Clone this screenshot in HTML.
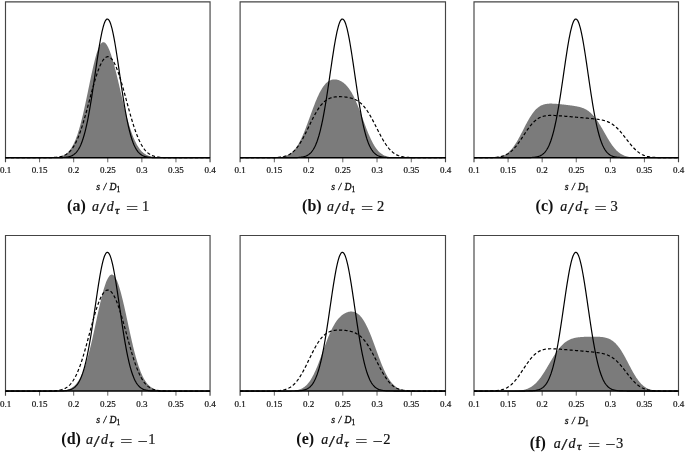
<!DOCTYPE html>
<html><head><meta charset="utf-8"><title>Figure</title>
<style>
html,body{margin:0;padding:0;background:#fff;}
body{width:685px;height:452px;overflow:hidden;}
svg{display:block;}
text{font-family:"Liberation Serif","DejaVu Serif",serif;fill:#111;}
.tk{font-size:9px;text-anchor:middle;stroke:#111;stroke-width:0.2px;}
.ax{font-size:9.7px;text-anchor:middle;stroke:#111;stroke-width:0.3px;word-spacing:1px;}
.sub{font-size:7.5px;}
.cb{font-weight:bold;font-size:16px;}
.cm{font-style:italic;font-size:14px;stroke:#111;stroke-width:0.2px;}
.cr{font-size:13.5px;stroke:#111;stroke-width:0.2px;}
.cd{font-size:14.5px;stroke:#111;stroke-width:0.2px;}
.cs{font-style:italic;font-size:10px;stroke:#111;stroke-width:0.3px;}
</style></head><body>
<svg width="685" height="452" viewBox="0 0 685 452">
<g>
<path d="M5.50,157.70 L5.50,157.70 L6.00,157.70 L6.50,157.70 L7.00,157.70 L7.50,157.70 L8.00,157.70 L8.50,157.70 L9.00,157.70 L9.50,157.70 L10.00,157.70 L10.50,157.70 L11.00,157.70 L11.50,157.70 L12.00,157.70 L12.50,157.70 L13.00,157.70 L13.50,157.70 L14.00,157.70 L14.50,157.70 L15.00,157.70 L15.50,157.70 L16.00,157.70 L16.50,157.70 L17.00,157.70 L17.50,157.70 L18.00,157.70 L18.50,157.70 L19.00,157.70 L19.50,157.70 L20.00,157.70 L20.50,157.70 L21.00,157.70 L21.50,157.70 L22.00,157.70 L22.50,157.70 L23.00,157.70 L23.50,157.70 L24.00,157.70 L24.50,157.70 L25.00,157.70 L25.50,157.70 L26.01,157.70 L26.51,157.70 L27.01,157.70 L27.51,157.70 L28.01,157.70 L28.51,157.70 L29.01,157.70 L29.51,157.70 L30.01,157.70 L30.51,157.70 L31.01,157.70 L31.51,157.70 L32.01,157.70 L32.51,157.70 L33.01,157.70 L33.51,157.70 L34.01,157.70 L34.51,157.70 L35.01,157.70 L35.51,157.70 L36.01,157.70 L36.51,157.70 L37.01,157.70 L37.51,157.70 L38.01,157.70 L38.51,157.70 L39.01,157.70 L39.51,157.70 L40.01,157.70 L40.51,157.70 L41.01,157.69 L41.51,157.69 L42.01,157.69 L42.51,157.69 L43.01,157.69 L43.51,157.69 L44.01,157.69 L44.51,157.68 L45.01,157.68 L45.51,157.68 L46.01,157.67 L46.51,157.67 L47.01,157.67 L47.51,157.66 L48.01,157.65 L48.51,157.65 L49.01,157.64 L49.51,157.63 L50.01,157.62 L50.51,157.60 L51.01,157.59 L51.51,157.57 L52.01,157.55 L52.51,157.53 L53.01,157.51 L53.51,157.48 L54.01,157.45 L54.51,157.41 L55.01,157.37 L55.51,157.33 L56.01,157.28 L56.51,157.22 L57.01,157.16 L57.51,157.09 L58.01,157.01 L58.51,156.93 L59.01,156.83 L59.51,156.72 L60.01,156.61 L60.51,156.48 L61.01,156.33 L61.51,156.18 L62.01,156.00 L62.51,155.81 L63.01,155.61 L63.51,155.38 L64.01,155.13 L64.51,154.86 L65.01,154.56 L65.51,154.24 L66.01,153.89 L66.51,153.51 L67.02,153.10 L67.52,152.66 L68.02,152.18 L68.52,151.67 L69.02,151.12 L69.52,150.53 L70.02,149.90 L70.52,149.22 L71.02,148.49 L71.52,147.72 L72.02,146.90 L72.52,146.03 L73.02,145.11 L73.52,144.13 L74.02,143.09 L74.52,142.00 L75.02,140.85 L75.52,139.64 L76.02,138.37 L76.52,137.04 L77.02,135.64 L77.52,134.19 L78.02,132.67 L78.52,131.09 L79.02,129.44 L79.52,127.74 L80.02,125.97 L80.52,124.14 L81.02,122.25 L81.52,120.31 L82.02,118.31 L82.52,116.26 L83.02,114.15 L83.52,112.00 L84.02,109.80 L84.52,107.56 L85.02,105.28 L85.52,102.97 L86.02,100.62 L86.52,98.25 L87.02,95.86 L87.52,93.45 L88.02,91.02 L88.52,88.59 L89.02,86.16 L89.52,83.74 L90.02,81.33 L90.52,78.93 L91.02,76.56 L91.52,74.21 L92.02,71.90 L92.52,69.64 L93.02,67.42 L93.52,65.26 L94.02,63.16 L94.52,61.13 L95.02,59.17 L95.52,57.30 L96.02,55.51 L96.52,53.82 L97.02,52.22 L97.52,50.73 L98.02,49.35 L98.52,48.08 L99.02,46.93 L99.52,45.90 L100.02,44.99 L100.52,44.21 L101.02,43.56 L101.52,43.03 L102.02,42.63 L102.52,42.36 L103.02,42.22 L103.52,42.20 L104.02,42.30 L104.52,42.52 L105.02,42.86 L105.52,43.31 L106.02,43.87 L106.52,44.53 L107.02,45.30 L107.52,46.16 L108.03,47.12 L108.53,48.16 L109.03,49.29 L109.53,50.51 L110.03,51.80 L110.53,53.17 L111.03,54.62 L111.53,56.13 L112.03,57.71 L112.53,59.35 L113.03,61.05 L113.53,62.81 L114.03,64.62 L114.53,66.48 L115.03,68.39 L115.53,70.33 L116.03,72.32 L116.53,74.34 L117.03,76.39 L117.53,78.47 L118.03,80.56 L118.53,82.68 L119.03,84.81 L119.53,86.95 L120.03,89.10 L120.53,91.25 L121.03,93.39 L121.53,95.53 L122.03,97.67 L122.53,99.78 L123.03,101.89 L123.53,103.97 L124.03,106.03 L124.53,108.06 L125.03,110.06 L125.53,112.03 L126.03,113.97 L126.53,115.86 L127.03,117.72 L127.53,119.54 L128.03,121.32 L128.53,123.05 L129.03,124.73 L129.53,126.37 L130.03,127.96 L130.53,129.50 L131.03,130.99 L131.53,132.42 L132.03,133.81 L132.53,135.15 L133.03,136.44 L133.53,137.67 L134.03,138.86 L134.53,139.99 L135.03,141.08 L135.53,142.12 L136.03,143.10 L136.53,144.05 L137.03,144.94 L137.53,145.79 L138.03,146.60 L138.53,147.37 L139.03,148.09 L139.53,148.77 L140.03,149.42 L140.53,150.02 L141.03,150.59 L141.53,151.13 L142.03,151.63 L142.53,152.10 L143.03,152.54 L143.53,152.96 L144.03,153.34 L144.53,153.70 L145.03,154.03 L145.53,154.34 L146.03,154.63 L146.53,154.89 L147.03,155.14 L147.53,155.36 L148.03,155.57 L148.53,155.77 L149.04,155.95 L149.54,156.11 L150.04,156.26 L150.54,156.40 L151.04,156.52 L151.54,156.64 L152.04,156.74 L152.54,156.84 L153.04,156.92 L153.54,157.00 L154.04,157.08 L154.54,157.14 L155.04,157.20 L155.54,157.25 L156.04,157.30 L156.54,157.34 L157.04,157.38 L157.54,157.42 L158.04,157.45 L158.54,157.48 L159.04,157.50 L159.54,157.53 L160.04,157.55 L160.54,157.56 L161.04,157.58 L161.54,157.59 L162.04,157.61 L162.54,157.62 L163.04,157.63 L163.54,157.64 L164.04,157.65 L164.54,157.65 L165.04,157.66 L165.54,157.66 L166.04,157.67 L166.54,157.67 L167.04,157.68 L167.54,157.68 L168.04,157.68 L168.54,157.68 L169.04,157.69 L169.54,157.69 L170.04,157.69 L170.54,157.69 L171.04,157.69 L171.54,157.69 L172.04,157.69 L172.54,157.70 L173.04,157.70 L173.54,157.70 L174.04,157.70 L174.54,157.70 L175.04,157.70 L175.54,157.70 L176.04,157.70 L176.54,157.70 L177.04,157.70 L177.54,157.70 L178.04,157.70 L178.54,157.70 L179.04,157.70 L179.54,157.70 L180.04,157.70 L180.54,157.70 L181.04,157.70 L181.54,157.70 L182.04,157.70 L182.54,157.70 L183.04,157.70 L183.54,157.70 L184.04,157.70 L184.54,157.70 L185.04,157.70 L185.54,157.70 L186.04,157.70 L186.54,157.70 L187.04,157.70 L187.54,157.70 L188.04,157.70 L188.54,157.70 L189.04,157.70 L189.54,157.70 L190.05,157.70 L190.55,157.70 L191.05,157.70 L191.55,157.70 L192.05,157.70 L192.55,157.70 L193.05,157.70 L193.55,157.70 L194.05,157.70 L194.55,157.70 L195.05,157.70 L195.55,157.70 L196.05,157.70 L196.55,157.70 L197.05,157.70 L197.55,157.70 L198.05,157.70 L198.55,157.70 L199.05,157.70 L199.55,157.70 L200.05,157.70 L200.55,157.70 L201.05,157.70 L201.55,157.70 L202.05,157.70 L202.55,157.70 L203.05,157.70 L203.55,157.70 L204.05,157.70 L204.55,157.70 L205.05,157.70 L205.55,157.70 L206.05,157.70 L206.55,157.70 L207.05,157.70 L207.55,157.70 L208.05,157.70 L208.55,157.70 L209.05,157.70 L209.55,157.70 L210.05,157.70 L210.05,157.70 Z" fill="#7b7b7b"/>
<path d="M5.50,162.30 V1.90 H210.05 V162.30" fill="none" stroke="#444" stroke-width="1.15"/>
<line x1="5.50" y1="157.70" x2="5.50" y2="157.70" stroke="#666" stroke-width="1"/>
<text x="5.50" y="173.10" class="tk">0.1</text>
<line x1="39.59" y1="157.70" x2="39.59" y2="162.30" stroke="#666" stroke-width="1"/>
<text x="39.59" y="173.10" class="tk">0.15</text>
<line x1="73.68" y1="157.70" x2="73.68" y2="162.30" stroke="#666" stroke-width="1"/>
<text x="73.68" y="173.10" class="tk">0.2</text>
<line x1="107.78" y1="157.70" x2="107.78" y2="162.30" stroke="#666" stroke-width="1"/>
<text x="107.78" y="173.10" class="tk">0.25</text>
<line x1="141.87" y1="157.70" x2="141.87" y2="162.30" stroke="#666" stroke-width="1"/>
<text x="141.87" y="173.10" class="tk">0.3</text>
<line x1="175.96" y1="157.70" x2="175.96" y2="162.30" stroke="#666" stroke-width="1"/>
<text x="175.96" y="173.10" class="tk">0.35</text>
<line x1="210.05" y1="157.70" x2="210.05" y2="157.70" stroke="#666" stroke-width="1"/>
<text x="210.05" y="173.10" class="tk">0.4</text>
<line x1="5.50" y1="157.70" x2="210.05" y2="157.70" stroke="#000" stroke-width="1.4"/>
<path d="M5.50,157.70 L6.00,157.70 L6.50,157.70 L7.00,157.70 L7.50,157.70 L8.00,157.70 L8.50,157.70 L9.00,157.70 L9.50,157.70 L10.00,157.70 L10.50,157.70 L11.00,157.70 L11.50,157.70 L12.00,157.70 L12.50,157.70 L13.00,157.70 L13.50,157.70 L14.00,157.70 L14.50,157.70 L15.00,157.70 L15.50,157.70 L16.00,157.70 L16.50,157.70 L17.00,157.70 L17.50,157.70 L18.00,157.70 L18.50,157.70 L19.00,157.70 L19.50,157.70 L20.00,157.70 L20.50,157.70 L21.00,157.70 L21.50,157.70 L22.00,157.70 L22.50,157.70 L23.00,157.70 L23.50,157.70 L24.00,157.70 L24.50,157.70 L25.00,157.70 L25.50,157.70 L26.01,157.70 L26.51,157.70 L27.01,157.70 L27.51,157.70 L28.01,157.70 L28.51,157.70 L29.01,157.70 L29.51,157.70 L30.01,157.70 L30.51,157.70 L31.01,157.70 L31.51,157.70 L32.01,157.70 L32.51,157.70 L33.01,157.70 L33.51,157.70 L34.01,157.70 L34.51,157.70 L35.01,157.70 L35.51,157.70 L36.01,157.70 L36.51,157.70 L37.01,157.70 L37.51,157.70 L38.01,157.70 L38.51,157.70 L39.01,157.70 L39.51,157.70 L40.01,157.70 L40.51,157.70 L41.01,157.69 L41.51,157.69 L42.01,157.69 L42.51,157.69 L43.01,157.69 L43.51,157.69 L44.01,157.69 L44.51,157.68 L45.01,157.68 L45.51,157.68 L46.01,157.68 L46.51,157.67 L47.01,157.67 L47.51,157.66 L48.01,157.66 L48.51,157.65 L49.01,157.64 L49.51,157.63 L50.01,157.62 L50.51,157.61 L51.01,157.60 L51.51,157.58 L52.01,157.56 L52.51,157.54 L53.01,157.52 L53.51,157.50 L54.01,157.47 L54.51,157.44 L55.01,157.40 L55.51,157.36 L56.01,157.32 L56.51,157.27 L57.01,157.22 L57.51,157.16 L58.01,157.09 L58.51,157.02 L59.01,156.93 L59.51,156.84 L60.01,156.74 L60.51,156.63 L61.01,156.51 L61.51,156.38 L62.01,156.23 L62.51,156.07 L63.01,155.90 L63.51,155.71 L64.01,155.50 L64.51,155.27 L65.01,155.03 L65.51,154.76 L66.01,154.47 L66.51,154.16 L67.02,153.83 L67.52,153.47 L68.02,153.08 L68.52,152.66 L69.02,152.22 L69.52,151.74 L70.02,151.23 L70.52,150.69 L71.02,150.11 L71.52,149.49 L72.02,148.84 L72.52,148.14 L73.02,147.41 L73.52,146.63 L74.02,145.82 L74.52,144.96 L75.02,144.05 L75.52,143.10 L76.02,142.11 L76.52,141.07 L77.02,139.98 L77.52,138.85 L78.02,137.67 L78.52,136.44 L79.02,135.17 L79.52,133.85 L80.02,132.49 L80.52,131.08 L81.02,129.63 L81.52,128.13 L82.02,126.60 L82.52,125.02 L83.02,123.41 L83.52,121.76 L84.02,120.08 L84.52,118.36 L85.02,116.62 L85.52,114.85 L86.02,113.05 L86.52,111.23 L87.02,109.39 L87.52,107.54 L88.02,105.68 L88.52,103.80 L89.02,101.92 L89.52,100.04 L90.02,98.15 L90.52,96.27 L91.02,94.40 L91.52,92.54 L92.02,90.69 L92.52,88.87 L93.02,87.06 L93.52,85.28 L94.02,83.53 L94.52,81.81 L95.02,80.12 L95.52,78.47 L96.02,76.87 L96.52,75.31 L97.02,73.80 L97.52,72.33 L98.02,70.92 L98.52,69.57 L99.02,68.27 L99.52,67.03 L100.02,65.86 L100.52,64.75 L101.02,63.70 L101.52,62.72 L102.02,61.81 L102.52,60.98 L103.02,60.21 L103.52,59.52 L104.02,58.90 L104.52,58.36 L105.02,57.89 L105.52,57.50 L106.02,57.18 L106.52,56.95 L107.02,56.79 L107.52,56.70 L108.03,56.70 L108.53,56.77 L109.03,56.92 L109.53,57.15 L110.03,57.45 L110.53,57.83 L111.03,58.29 L111.53,58.82 L112.03,59.42 L112.53,60.10 L113.03,60.84 L113.53,61.66 L114.03,62.55 L114.53,63.50 L115.03,64.52 L115.53,65.60 L116.03,66.75 L116.53,67.95 L117.03,69.22 L117.53,70.54 L118.03,71.91 L118.53,73.34 L119.03,74.81 L119.53,76.33 L120.03,77.89 L120.53,79.50 L121.03,81.14 L121.53,82.82 L122.03,84.53 L122.53,86.26 L123.03,88.03 L123.53,89.81 L124.03,91.62 L124.53,93.44 L125.03,95.27 L125.53,97.11 L126.03,98.96 L126.53,100.81 L127.03,102.66 L127.53,104.51 L128.03,106.35 L128.53,108.18 L129.03,110.00 L129.53,111.80 L130.03,113.58 L130.53,115.34 L131.03,117.08 L131.53,118.79 L132.03,120.47 L132.53,122.12 L133.03,123.73 L133.53,125.31 L134.03,126.86 L134.53,128.36 L135.03,129.83 L135.53,131.26 L136.03,132.64 L136.53,133.98 L137.03,135.28 L137.53,136.53 L138.03,137.73 L138.53,138.90 L139.03,140.01 L139.53,141.09 L140.03,142.11 L140.53,143.10 L141.03,144.03 L141.53,144.93 L142.03,145.78 L142.53,146.59 L143.03,147.36 L143.53,148.09 L144.03,148.78 L144.53,149.43 L145.03,150.04 L145.53,150.62 L146.03,151.16 L146.53,151.67 L147.03,152.15 L147.53,152.60 L148.03,153.01 L148.53,153.40 L149.04,153.76 L149.54,154.10 L150.04,154.41 L150.54,154.70 L151.04,154.97 L151.54,155.22 L152.04,155.45 L152.54,155.66 L153.04,155.85 L153.54,156.03 L154.04,156.19 L154.54,156.34 L155.04,156.47 L155.54,156.60 L156.04,156.71 L156.54,156.81 L157.04,156.91 L157.54,156.99 L158.04,157.07 L158.54,157.14 L159.04,157.20 L159.54,157.25 L160.04,157.30 L160.54,157.35 L161.04,157.39 L161.54,157.43 L162.04,157.46 L162.54,157.49 L163.04,157.51 L163.54,157.54 L164.04,157.56 L164.54,157.57 L165.04,157.59 L165.54,157.60 L166.04,157.62 L166.54,157.63 L167.04,157.64 L167.54,157.64 L168.04,157.65 L168.54,157.66 L169.04,157.66 L169.54,157.67 L170.04,157.67 L170.54,157.68 L171.04,157.68 L171.54,157.68 L172.04,157.69 L172.54,157.69 L173.04,157.69 L173.54,157.69 L174.04,157.69 L174.54,157.69 L175.04,157.69 L175.54,157.70 L176.04,157.70 L176.54,157.70 L177.04,157.70 L177.54,157.70 L178.04,157.70 L178.54,157.70 L179.04,157.70 L179.54,157.70 L180.04,157.70 L180.54,157.70 L181.04,157.70 L181.54,157.70 L182.04,157.70 L182.54,157.70 L183.04,157.70 L183.54,157.70 L184.04,157.70 L184.54,157.70 L185.04,157.70 L185.54,157.70 L186.04,157.70 L186.54,157.70 L187.04,157.70 L187.54,157.70 L188.04,157.70 L188.54,157.70 L189.04,157.70 L189.54,157.70 L190.05,157.70 L190.55,157.70 L191.05,157.70 L191.55,157.70 L192.05,157.70 L192.55,157.70 L193.05,157.70 L193.55,157.70 L194.05,157.70 L194.55,157.70 L195.05,157.70 L195.55,157.70 L196.05,157.70 L196.55,157.70 L197.05,157.70 L197.55,157.70 L198.05,157.70 L198.55,157.70 L199.05,157.70 L199.55,157.70 L200.05,157.70 L200.55,157.70 L201.05,157.70 L201.55,157.70 L202.05,157.70 L202.55,157.70 L203.05,157.70 L203.55,157.70 L204.05,157.70 L204.55,157.70 L205.05,157.70 L205.55,157.70 L206.05,157.70 L206.55,157.70 L207.05,157.70 L207.55,157.70 L208.05,157.70 L208.55,157.70 L209.05,157.70 L209.55,157.70 L210.05,157.70" fill="none" stroke="#000" stroke-width="1.2" stroke-dasharray="3.2,2.2"/>
<path d="M5.50,157.70 L6.00,157.70 L6.50,157.70 L7.00,157.70 L7.50,157.70 L8.00,157.70 L8.50,157.70 L9.00,157.70 L9.50,157.70 L10.00,157.70 L10.50,157.70 L11.00,157.70 L11.50,157.70 L12.00,157.70 L12.50,157.70 L13.00,157.70 L13.50,157.70 L14.00,157.70 L14.50,157.70 L15.00,157.70 L15.50,157.70 L16.00,157.70 L16.50,157.70 L17.00,157.70 L17.50,157.70 L18.00,157.70 L18.50,157.70 L19.00,157.70 L19.50,157.70 L20.00,157.70 L20.50,157.70 L21.00,157.70 L21.50,157.70 L22.00,157.70 L22.50,157.70 L23.00,157.70 L23.50,157.70 L24.00,157.70 L24.50,157.70 L25.00,157.70 L25.50,157.70 L26.01,157.70 L26.51,157.70 L27.01,157.70 L27.51,157.70 L28.01,157.70 L28.51,157.70 L29.01,157.70 L29.51,157.70 L30.01,157.70 L30.51,157.70 L31.01,157.70 L31.51,157.70 L32.01,157.70 L32.51,157.70 L33.01,157.70 L33.51,157.70 L34.01,157.70 L34.51,157.70 L35.01,157.70 L35.51,157.70 L36.01,157.70 L36.51,157.70 L37.01,157.70 L37.51,157.70 L38.01,157.70 L38.51,157.70 L39.01,157.70 L39.51,157.70 L40.01,157.70 L40.51,157.70 L41.01,157.70 L41.51,157.70 L42.01,157.70 L42.51,157.70 L43.01,157.70 L43.51,157.70 L44.01,157.70 L44.51,157.70 L45.01,157.70 L45.51,157.70 L46.01,157.70 L46.51,157.70 L47.01,157.70 L47.51,157.70 L48.01,157.70 L48.51,157.70 L49.01,157.70 L49.51,157.70 L50.01,157.70 L50.51,157.70 L51.01,157.70 L51.51,157.70 L52.01,157.70 L52.51,157.69 L53.01,157.69 L53.51,157.69 L54.01,157.69 L54.51,157.69 L55.01,157.69 L55.51,157.68 L56.01,157.68 L56.51,157.68 L57.01,157.67 L57.51,157.67 L58.01,157.66 L58.51,157.65 L59.01,157.65 L59.51,157.64 L60.01,157.63 L60.51,157.61 L61.01,157.60 L61.51,157.58 L62.01,157.56 L62.51,157.54 L63.01,157.51 L63.51,157.48 L64.01,157.45 L64.51,157.41 L65.01,157.36 L65.51,157.31 L66.01,157.26 L66.51,157.19 L67.02,157.12 L67.52,157.03 L68.02,156.94 L68.52,156.83 L69.02,156.71 L69.52,156.57 L70.02,156.42 L70.52,156.25 L71.02,156.06 L71.52,155.85 L72.02,155.62 L72.52,155.35 L73.02,155.07 L73.52,154.75 L74.02,154.39 L74.52,154.00 L75.02,153.58 L75.52,153.11 L76.02,152.59 L76.52,152.03 L77.02,151.42 L77.52,150.75 L78.02,150.02 L78.52,149.23 L79.02,148.38 L79.52,147.46 L80.02,146.46 L80.52,145.39 L81.02,144.24 L81.52,143.00 L82.02,141.68 L82.52,140.28 L83.02,138.77 L83.52,137.18 L84.02,135.49 L84.52,133.69 L85.02,131.80 L85.52,129.80 L86.02,127.70 L86.52,125.50 L87.02,123.19 L87.52,120.78 L88.02,118.27 L88.52,115.66 L89.02,112.95 L89.52,110.14 L90.02,107.24 L90.52,104.26 L91.02,101.20 L91.52,98.06 L92.02,94.85 L92.52,91.58 L93.02,88.25 L93.52,84.89 L94.02,81.48 L94.52,78.05 L95.02,74.61 L95.52,71.16 L96.02,67.72 L96.52,64.30 L97.02,60.92 L97.52,57.58 L98.02,54.30 L98.52,51.09 L99.02,47.96 L99.52,44.94 L100.02,42.02 L100.52,39.23 L101.02,36.57 L101.52,34.06 L102.02,31.72 L102.52,29.54 L103.02,27.54 L103.52,25.74 L104.02,24.13 L104.52,22.73 L105.02,21.55 L105.52,20.59 L106.02,19.85 L106.52,19.34 L107.02,19.06 L107.52,19.01 L108.03,19.20 L108.53,19.61 L109.03,20.26 L109.53,21.14 L110.03,22.23 L110.53,23.55 L111.03,25.07 L111.53,26.80 L112.03,28.72 L112.53,30.82 L113.03,33.10 L113.53,35.55 L114.03,38.15 L114.53,40.89 L115.03,43.75 L115.53,46.74 L116.03,49.83 L116.53,53.00 L117.03,56.26 L117.53,59.58 L118.03,62.95 L118.53,66.35 L119.03,69.78 L119.53,73.23 L120.03,76.68 L120.53,80.11 L121.03,83.53 L121.53,86.91 L122.03,90.25 L122.53,93.55 L123.03,96.78 L123.53,99.95 L124.03,103.05 L124.53,106.06 L125.03,108.99 L125.53,111.84 L126.03,114.59 L126.53,117.24 L127.03,119.79 L127.53,122.24 L128.03,124.59 L128.53,126.84 L129.03,128.98 L129.53,131.01 L130.03,132.95 L130.53,134.78 L131.03,136.51 L131.53,138.15 L132.03,139.69 L132.53,141.13 L133.03,142.49 L133.53,143.75 L134.03,144.94 L134.53,146.04 L135.03,147.07 L135.53,148.02 L136.03,148.90 L136.53,149.71 L137.03,150.46 L137.53,151.16 L138.03,151.79 L138.53,152.37 L139.03,152.91 L139.53,153.39 L140.03,153.84 L140.53,154.24 L141.03,154.61 L141.53,154.94 L142.03,155.24 L142.53,155.51 L143.03,155.76 L143.53,155.98 L144.03,156.18 L144.53,156.36 L145.03,156.51 L145.53,156.66 L146.03,156.78 L146.53,156.89 L147.03,156.99 L147.53,157.08 L148.03,157.16 L148.53,157.23 L149.04,157.29 L149.54,157.35 L150.04,157.39 L150.54,157.43 L151.04,157.47 L151.54,157.50 L152.04,157.53 L152.54,157.55 L153.04,157.57 L153.54,157.59 L154.04,157.61 L154.54,157.62 L155.04,157.63 L155.54,157.64 L156.04,157.65 L156.54,157.66 L157.04,157.66 L157.54,157.67 L158.04,157.67 L158.54,157.68 L159.04,157.68 L159.54,157.69 L160.04,157.69 L160.54,157.69 L161.04,157.69 L161.54,157.69 L162.04,157.69 L162.54,157.69 L163.04,157.70 L163.54,157.70 L164.04,157.70 L164.54,157.70 L165.04,157.70 L165.54,157.70 L166.04,157.70 L166.54,157.70 L167.04,157.70 L167.54,157.70 L168.04,157.70 L168.54,157.70 L169.04,157.70 L169.54,157.70 L170.04,157.70 L170.54,157.70 L171.04,157.70 L171.54,157.70 L172.04,157.70 L172.54,157.70 L173.04,157.70 L173.54,157.70 L174.04,157.70 L174.54,157.70 L175.04,157.70 L175.54,157.70 L176.04,157.70 L176.54,157.70 L177.04,157.70 L177.54,157.70 L178.04,157.70 L178.54,157.70 L179.04,157.70 L179.54,157.70 L180.04,157.70 L180.54,157.70 L181.04,157.70 L181.54,157.70 L182.04,157.70 L182.54,157.70 L183.04,157.70 L183.54,157.70 L184.04,157.70 L184.54,157.70 L185.04,157.70 L185.54,157.70 L186.04,157.70 L186.54,157.70 L187.04,157.70 L187.54,157.70 L188.04,157.70 L188.54,157.70 L189.04,157.70 L189.54,157.70 L190.05,157.70 L190.55,157.70 L191.05,157.70 L191.55,157.70 L192.05,157.70 L192.55,157.70 L193.05,157.70 L193.55,157.70 L194.05,157.70 L194.55,157.70 L195.05,157.70 L195.55,157.70 L196.05,157.70 L196.55,157.70 L197.05,157.70 L197.55,157.70 L198.05,157.70 L198.55,157.70 L199.05,157.70 L199.55,157.70 L200.05,157.70 L200.55,157.70 L201.05,157.70 L201.55,157.70 L202.05,157.70 L202.55,157.70 L203.05,157.70 L203.55,157.70 L204.05,157.70 L204.55,157.70 L205.05,157.70 L205.55,157.70 L206.05,157.70 L206.55,157.70 L207.05,157.70 L207.55,157.70 L208.05,157.70 L208.55,157.70 L209.05,157.70 L209.55,157.70 L210.05,157.70" fill="none" stroke="#000" stroke-width="1.2"/>
<text x="108.28" y="189.70" class="ax"><tspan font-style="italic">s / D</tspan><tspan class="sub" dy="2.3">1</tspan></text>
<text x="67.08" y="211.10" class="cb">(a)</text>
<text x="91.88" y="211.10" class="cm">a</text>
<text transform="translate(99.38,213.90) scale(1.65,1.25)" class="cr">/</text>
<text x="106.67" y="211.10" class="cm">d</text>
<text transform="translate(114.97,213.50) scale(1.25,1)" class="cs">τ</text>
<text transform="translate(125.97,213.00) scale(1.6,1.1)" class="cr">=</text>
<text x="141.97" y="211.10" class="cd">1</text>
</g>
<g>
<path d="M240.10,157.70 L240.10,157.70 L240.60,157.70 L241.10,157.70 L241.61,157.70 L242.11,157.70 L242.61,157.70 L243.11,157.70 L243.62,157.70 L244.12,157.70 L244.62,157.70 L245.12,157.70 L245.62,157.70 L246.13,157.70 L246.63,157.70 L247.13,157.70 L247.63,157.70 L248.14,157.70 L248.64,157.70 L249.14,157.70 L249.64,157.70 L250.14,157.70 L250.65,157.70 L251.15,157.70 L251.65,157.70 L252.15,157.70 L252.66,157.70 L253.16,157.70 L253.66,157.70 L254.16,157.70 L254.66,157.70 L255.17,157.70 L255.67,157.70 L256.17,157.70 L256.67,157.70 L257.17,157.70 L257.68,157.70 L258.18,157.70 L258.68,157.70 L259.18,157.70 L259.69,157.70 L260.19,157.70 L260.69,157.70 L261.19,157.70 L261.69,157.70 L262.20,157.70 L262.70,157.70 L263.20,157.70 L263.70,157.70 L264.21,157.69 L264.71,157.69 L265.21,157.69 L265.71,157.69 L266.21,157.69 L266.72,157.69 L267.22,157.69 L267.72,157.68 L268.22,157.68 L268.73,157.68 L269.23,157.67 L269.73,157.67 L270.23,157.66 L270.73,157.66 L271.24,157.65 L271.74,157.64 L272.24,157.63 L272.74,157.62 L273.25,157.61 L273.75,157.60 L274.25,157.58 L274.75,157.57 L275.25,157.55 L275.76,157.53 L276.26,157.50 L276.76,157.47 L277.26,157.44 L277.77,157.41 L278.27,157.37 L278.77,157.33 L279.27,157.28 L279.77,157.23 L280.28,157.17 L280.78,157.10 L281.28,157.03 L281.78,156.95 L282.28,156.86 L282.79,156.76 L283.29,156.65 L283.79,156.53 L284.29,156.40 L284.80,156.26 L285.30,156.10 L285.80,155.93 L286.30,155.75 L286.80,155.55 L287.31,155.33 L287.81,155.09 L288.31,154.84 L288.81,154.56 L289.32,154.26 L289.82,153.94 L290.32,153.60 L290.82,153.24 L291.32,152.84 L291.83,152.42 L292.33,151.98 L292.83,151.50 L293.33,151.00 L293.84,150.46 L294.34,149.90 L294.84,149.30 L295.34,148.67 L295.84,148.00 L296.35,147.30 L296.85,146.57 L297.35,145.80 L297.85,145.00 L298.36,144.16 L298.86,143.28 L299.36,142.37 L299.86,141.43 L300.36,140.45 L300.87,139.44 L301.37,138.39 L301.87,137.32 L302.37,136.21 L302.88,135.07 L303.38,133.90 L303.88,132.70 L304.38,131.48 L304.88,130.23 L305.39,128.96 L305.89,127.67 L306.39,126.35 L306.89,125.03 L307.39,123.68 L307.90,122.33 L308.40,120.96 L308.90,119.58 L309.40,118.20 L309.91,116.82 L310.41,115.44 L310.91,114.06 L311.41,112.68 L311.91,111.31 L312.42,109.95 L312.92,108.60 L313.42,107.26 L313.92,105.94 L314.43,104.64 L314.93,103.36 L315.43,102.10 L315.93,100.87 L316.43,99.67 L316.94,98.49 L317.44,97.34 L317.94,96.22 L318.44,95.14 L318.95,94.09 L319.45,93.08 L319.95,92.10 L320.45,91.16 L320.95,90.25 L321.46,89.39 L321.96,88.56 L322.46,87.77 L322.96,87.02 L323.47,86.30 L323.97,85.63 L324.47,84.99 L324.97,84.40 L325.47,83.84 L325.98,83.32 L326.48,82.83 L326.98,82.38 L327.48,81.97 L327.99,81.59 L328.49,81.24 L328.99,80.93 L329.49,80.65 L329.99,80.40 L330.50,80.18 L331.00,79.99 L331.50,79.82 L332.00,79.69 L332.50,79.58 L333.01,79.50 L333.51,79.44 L334.01,79.41 L334.51,79.40 L335.02,79.41 L335.52,79.45 L336.02,79.51 L336.52,79.59 L337.02,79.69 L337.53,79.81 L338.03,79.95 L338.53,80.11 L339.03,80.29 L339.54,80.49 L340.04,80.71 L340.54,80.96 L341.04,81.22 L341.54,81.50 L342.05,81.81 L342.55,82.14 L343.05,82.49 L343.55,82.86 L344.06,83.26 L344.56,83.68 L345.06,84.13 L345.56,84.60 L346.06,85.10 L346.57,85.63 L347.07,86.19 L347.57,86.78 L348.07,87.40 L348.58,88.05 L349.08,88.73 L349.58,89.44 L350.08,90.18 L350.58,90.96 L351.09,91.78 L351.59,92.62 L352.09,93.50 L352.59,94.42 L353.10,95.36 L353.60,96.34 L354.10,97.36 L354.60,98.40 L355.10,99.48 L355.61,100.59 L356.11,101.73 L356.61,102.89 L357.11,104.09 L357.61,105.31 L358.12,106.55 L358.62,107.81 L359.12,109.10 L359.62,110.40 L360.13,111.72 L360.63,113.05 L361.13,114.39 L361.63,115.75 L362.13,117.10 L362.64,118.47 L363.14,119.83 L363.64,121.19 L364.14,122.54 L364.65,123.89 L365.15,125.24 L365.65,126.56 L366.15,127.88 L366.65,129.18 L367.16,130.46 L367.66,131.71 L368.16,132.95 L368.66,134.16 L369.17,135.34 L369.67,136.49 L370.17,137.62 L370.67,138.71 L371.17,139.77 L371.68,140.80 L372.18,141.79 L372.68,142.75 L373.18,143.67 L373.69,144.55 L374.19,145.40 L374.69,146.21 L375.19,146.99 L375.69,147.73 L376.20,148.43 L376.70,149.10 L377.20,149.73 L377.70,150.33 L378.21,150.89 L378.71,151.42 L379.21,151.92 L379.71,152.39 L380.21,152.83 L380.72,153.24 L381.22,153.62 L381.72,153.98 L382.22,154.31 L382.72,154.62 L383.23,154.90 L383.73,155.16 L384.23,155.41 L384.73,155.63 L385.24,155.83 L385.74,156.02 L386.24,156.19 L386.74,156.34 L387.24,156.49 L387.75,156.62 L388.25,156.73 L388.75,156.84 L389.25,156.93 L389.76,157.02 L390.26,157.10 L390.76,157.17 L391.26,157.23 L391.76,157.29 L392.27,157.34 L392.77,157.38 L393.27,157.42 L393.77,157.46 L394.28,157.49 L394.78,157.51 L395.28,157.54 L395.78,157.56 L396.28,157.58 L396.79,157.59 L397.29,157.61 L397.79,157.62 L398.29,157.63 L398.80,157.64 L399.30,157.65 L399.80,157.66 L400.30,157.66 L400.80,157.67 L401.31,157.67 L401.81,157.68 L402.31,157.68 L402.81,157.68 L403.32,157.69 L403.82,157.69 L404.32,157.69 L404.82,157.69 L405.32,157.69 L405.83,157.69 L406.33,157.70 L406.83,157.70 L407.33,157.70 L407.83,157.70 L408.34,157.70 L408.84,157.70 L409.34,157.70 L409.84,157.70 L410.35,157.70 L410.85,157.70 L411.35,157.70 L411.85,157.70 L412.35,157.70 L412.86,157.70 L413.36,157.70 L413.86,157.70 L414.36,157.70 L414.87,157.70 L415.37,157.70 L415.87,157.70 L416.37,157.70 L416.87,157.70 L417.38,157.70 L417.88,157.70 L418.38,157.70 L418.88,157.70 L419.39,157.70 L419.89,157.70 L420.39,157.70 L420.89,157.70 L421.39,157.70 L421.90,157.70 L422.40,157.70 L422.90,157.70 L423.40,157.70 L423.91,157.70 L424.41,157.70 L424.91,157.70 L425.41,157.70 L425.91,157.70 L426.42,157.70 L426.92,157.70 L427.42,157.70 L427.92,157.70 L428.43,157.70 L428.93,157.70 L429.43,157.70 L429.93,157.70 L430.43,157.70 L430.94,157.70 L431.44,157.70 L431.94,157.70 L432.44,157.70 L432.94,157.70 L433.45,157.70 L433.95,157.70 L434.45,157.70 L434.95,157.70 L435.46,157.70 L435.96,157.70 L436.46,157.70 L436.96,157.70 L437.46,157.70 L437.97,157.70 L438.47,157.70 L438.97,157.70 L439.47,157.70 L439.98,157.70 L440.48,157.70 L440.98,157.70 L441.48,157.70 L441.98,157.70 L442.49,157.70 L442.99,157.70 L443.49,157.70 L443.99,157.70 L444.50,157.70 L445.00,157.70 L445.50,157.70 L445.50,157.70 Z" fill="#7b7b7b"/>
<path d="M240.10,162.30 V1.90 H445.50 V162.30" fill="none" stroke="#444" stroke-width="1.15"/>
<line x1="240.10" y1="157.70" x2="240.10" y2="157.70" stroke="#666" stroke-width="1"/>
<text x="240.10" y="173.10" class="tk">0.1</text>
<line x1="274.33" y1="157.70" x2="274.33" y2="162.30" stroke="#666" stroke-width="1"/>
<text x="274.33" y="173.10" class="tk">0.15</text>
<line x1="308.57" y1="157.70" x2="308.57" y2="162.30" stroke="#666" stroke-width="1"/>
<text x="308.57" y="173.10" class="tk">0.2</text>
<line x1="342.80" y1="157.70" x2="342.80" y2="162.30" stroke="#666" stroke-width="1"/>
<text x="342.80" y="173.10" class="tk">0.25</text>
<line x1="377.03" y1="157.70" x2="377.03" y2="162.30" stroke="#666" stroke-width="1"/>
<text x="377.03" y="173.10" class="tk">0.3</text>
<line x1="411.27" y1="157.70" x2="411.27" y2="162.30" stroke="#666" stroke-width="1"/>
<text x="411.27" y="173.10" class="tk">0.35</text>
<line x1="445.50" y1="157.70" x2="445.50" y2="157.70" stroke="#666" stroke-width="1"/>
<text x="445.50" y="173.10" class="tk">0.4</text>
<line x1="240.10" y1="157.70" x2="445.50" y2="157.70" stroke="#000" stroke-width="1.4"/>
<path d="M240.10,157.70 L240.60,157.70 L241.10,157.70 L241.61,157.70 L242.11,157.70 L242.61,157.70 L243.11,157.70 L243.62,157.70 L244.12,157.70 L244.62,157.70 L245.12,157.70 L245.62,157.70 L246.13,157.70 L246.63,157.70 L247.13,157.70 L247.63,157.70 L248.14,157.70 L248.64,157.70 L249.14,157.70 L249.64,157.70 L250.14,157.70 L250.65,157.70 L251.15,157.70 L251.65,157.70 L252.15,157.70 L252.66,157.70 L253.16,157.70 L253.66,157.70 L254.16,157.70 L254.66,157.70 L255.17,157.70 L255.67,157.70 L256.17,157.70 L256.67,157.70 L257.17,157.70 L257.68,157.70 L258.18,157.70 L258.68,157.70 L259.18,157.70 L259.69,157.70 L260.19,157.70 L260.69,157.70 L261.19,157.70 L261.69,157.70 L262.20,157.70 L262.70,157.70 L263.20,157.70 L263.70,157.69 L264.21,157.69 L264.71,157.69 L265.21,157.69 L265.71,157.69 L266.21,157.69 L266.72,157.69 L267.22,157.68 L267.72,157.68 L268.22,157.68 L268.73,157.67 L269.23,157.67 L269.73,157.66 L270.23,157.66 L270.73,157.65 L271.24,157.65 L271.74,157.64 L272.24,157.63 L272.74,157.62 L273.25,157.60 L273.75,157.59 L274.25,157.58 L274.75,157.56 L275.25,157.54 L275.76,157.52 L276.26,157.49 L276.76,157.46 L277.26,157.43 L277.77,157.40 L278.27,157.36 L278.77,157.32 L279.27,157.27 L279.77,157.22 L280.28,157.16 L280.78,157.09 L281.28,157.02 L281.78,156.94 L282.28,156.86 L282.79,156.76 L283.29,156.66 L283.79,156.55 L284.29,156.42 L284.80,156.29 L285.30,156.14 L285.80,155.98 L286.30,155.81 L286.80,155.63 L287.31,155.43 L287.81,155.21 L288.31,154.98 L288.81,154.73 L289.32,154.46 L289.82,154.17 L290.32,153.87 L290.82,153.54 L291.32,153.20 L291.83,152.83 L292.33,152.43 L292.83,152.02 L293.33,151.58 L293.84,151.12 L294.34,150.63 L294.84,150.12 L295.34,149.58 L295.84,149.01 L296.35,148.42 L296.85,147.80 L297.35,147.16 L297.85,146.49 L298.36,145.79 L298.86,145.07 L299.36,144.32 L299.86,143.55 L300.36,142.75 L300.87,141.93 L301.37,141.09 L301.87,140.22 L302.37,139.33 L302.88,138.42 L303.38,137.50 L303.88,136.55 L304.38,135.59 L304.88,134.61 L305.39,133.62 L305.89,132.62 L306.39,131.60 L306.89,130.58 L307.39,129.55 L307.90,128.52 L308.40,127.48 L308.90,126.44 L309.40,125.40 L309.91,124.37 L310.41,123.33 L310.91,122.30 L311.41,121.28 L311.91,120.27 L312.42,119.27 L312.92,118.29 L313.42,117.31 L313.92,116.36 L314.43,115.42 L314.93,114.49 L315.43,113.59 L315.93,112.71 L316.43,111.85 L316.94,111.01 L317.44,110.20 L317.94,109.41 L318.44,108.65 L318.95,107.91 L319.45,107.20 L319.95,106.52 L320.45,105.86 L320.95,105.23 L321.46,104.63 L321.96,104.05 L322.46,103.51 L322.96,102.98 L323.47,102.49 L323.97,102.02 L324.47,101.57 L324.97,101.16 L325.47,100.76 L325.98,100.39 L326.48,100.04 L326.98,99.72 L327.48,99.42 L327.99,99.13 L328.49,98.87 L328.99,98.63 L329.49,98.41 L329.99,98.20 L330.50,98.01 L331.00,97.84 L331.50,97.68 L332.00,97.54 L332.50,97.41 L333.01,97.30 L333.51,97.20 L334.01,97.11 L334.51,97.03 L335.02,96.96 L335.52,96.90 L336.02,96.85 L336.52,96.80 L337.02,96.77 L337.53,96.74 L338.03,96.72 L338.53,96.71 L339.03,96.70 L339.54,96.70 L340.04,96.70 L340.54,96.71 L341.04,96.73 L341.54,96.75 L342.05,96.77 L342.55,96.80 L343.05,96.84 L343.55,96.88 L344.06,96.92 L344.56,96.97 L345.06,97.02 L345.56,97.08 L346.06,97.14 L346.57,97.21 L347.07,97.28 L347.57,97.36 L348.07,97.45 L348.58,97.54 L349.08,97.64 L349.58,97.74 L350.08,97.86 L350.58,97.98 L351.09,98.11 L351.59,98.25 L352.09,98.40 L352.59,98.56 L353.10,98.73 L353.60,98.92 L354.10,99.11 L354.60,99.32 L355.10,99.55 L355.61,99.78 L356.11,100.04 L356.61,100.31 L357.11,100.59 L357.61,100.90 L358.12,101.22 L358.62,101.56 L359.12,101.92 L359.62,102.30 L360.13,102.70 L360.63,103.12 L361.13,103.57 L361.63,104.04 L362.13,104.53 L362.64,105.04 L363.14,105.58 L363.64,106.14 L364.14,106.73 L364.65,107.34 L365.15,107.98 L365.65,108.63 L366.15,109.32 L366.65,110.02 L367.16,110.76 L367.66,111.51 L368.16,112.29 L368.66,113.08 L369.17,113.90 L369.67,114.74 L370.17,115.60 L370.67,116.48 L371.17,117.37 L371.68,118.29 L372.18,119.21 L372.68,120.15 L373.18,121.11 L373.69,122.07 L374.19,123.04 L374.69,124.02 L375.19,125.01 L375.69,126.00 L376.20,126.99 L376.70,127.99 L377.20,128.98 L377.70,129.97 L378.21,130.96 L378.71,131.94 L379.21,132.92 L379.71,133.88 L380.21,134.84 L380.72,135.78 L381.22,136.71 L381.72,137.62 L382.22,138.52 L382.72,139.41 L383.23,140.27 L383.73,141.11 L384.23,141.94 L384.73,142.74 L385.24,143.52 L385.74,144.27 L386.24,145.01 L386.74,145.72 L387.24,146.40 L387.75,147.06 L388.25,147.70 L388.75,148.31 L389.25,148.89 L389.76,149.45 L390.26,149.99 L390.76,150.50 L391.26,150.99 L391.76,151.45 L392.27,151.89 L392.77,152.31 L393.27,152.70 L393.77,153.07 L394.28,153.42 L394.78,153.75 L395.28,154.06 L395.78,154.35 L396.28,154.62 L396.79,154.88 L397.29,155.11 L397.79,155.33 L398.29,155.54 L398.80,155.73 L399.30,155.90 L399.80,156.07 L400.30,156.22 L400.80,156.36 L401.31,156.48 L401.81,156.60 L402.31,156.71 L402.81,156.81 L403.32,156.90 L403.82,156.98 L404.32,157.05 L404.82,157.12 L405.32,157.18 L405.83,157.24 L406.33,157.29 L406.83,157.33 L407.33,157.37 L407.83,157.41 L408.34,157.44 L408.84,157.47 L409.34,157.50 L409.84,157.52 L410.35,157.55 L410.85,157.56 L411.35,157.58 L411.85,157.60 L412.35,157.61 L412.86,157.62 L413.36,157.63 L413.86,157.64 L414.36,157.65 L414.87,157.65 L415.37,157.66 L415.87,157.67 L416.37,157.67 L416.87,157.67 L417.38,157.68 L417.88,157.68 L418.38,157.68 L418.88,157.69 L419.39,157.69 L419.89,157.69 L420.39,157.69 L420.89,157.69 L421.39,157.69 L421.90,157.69 L422.40,157.70 L422.90,157.70 L423.40,157.70 L423.91,157.70 L424.41,157.70 L424.91,157.70 L425.41,157.70 L425.91,157.70 L426.42,157.70 L426.92,157.70 L427.42,157.70 L427.92,157.70 L428.43,157.70 L428.93,157.70 L429.43,157.70 L429.93,157.70 L430.43,157.70 L430.94,157.70 L431.44,157.70 L431.94,157.70 L432.44,157.70 L432.94,157.70 L433.45,157.70 L433.95,157.70 L434.45,157.70 L434.95,157.70 L435.46,157.70 L435.96,157.70 L436.46,157.70 L436.96,157.70 L437.46,157.70 L437.97,157.70 L438.47,157.70 L438.97,157.70 L439.47,157.70 L439.98,157.70 L440.48,157.70 L440.98,157.70 L441.48,157.70 L441.98,157.70 L442.49,157.70 L442.99,157.70 L443.49,157.70 L443.99,157.70 L444.50,157.70 L445.00,157.70 L445.50,157.70" fill="none" stroke="#000" stroke-width="1.2" stroke-dasharray="3.2,2.2"/>
<path d="M240.10,157.70 L240.60,157.70 L241.10,157.70 L241.61,157.70 L242.11,157.70 L242.61,157.70 L243.11,157.70 L243.62,157.70 L244.12,157.70 L244.62,157.70 L245.12,157.70 L245.62,157.70 L246.13,157.70 L246.63,157.70 L247.13,157.70 L247.63,157.70 L248.14,157.70 L248.64,157.70 L249.14,157.70 L249.64,157.70 L250.14,157.70 L250.65,157.70 L251.15,157.70 L251.65,157.70 L252.15,157.70 L252.66,157.70 L253.16,157.70 L253.66,157.70 L254.16,157.70 L254.66,157.70 L255.17,157.70 L255.67,157.70 L256.17,157.70 L256.67,157.70 L257.17,157.70 L257.68,157.70 L258.18,157.70 L258.68,157.70 L259.18,157.70 L259.69,157.70 L260.19,157.70 L260.69,157.70 L261.19,157.70 L261.69,157.70 L262.20,157.70 L262.70,157.70 L263.20,157.70 L263.70,157.70 L264.21,157.70 L264.71,157.70 L265.21,157.70 L265.71,157.70 L266.21,157.70 L266.72,157.70 L267.22,157.70 L267.72,157.70 L268.22,157.70 L268.73,157.70 L269.23,157.70 L269.73,157.70 L270.23,157.70 L270.73,157.70 L271.24,157.70 L271.74,157.70 L272.24,157.70 L272.74,157.70 L273.25,157.70 L273.75,157.70 L274.25,157.70 L274.75,157.70 L275.25,157.70 L275.76,157.70 L276.26,157.70 L276.76,157.70 L277.26,157.70 L277.77,157.70 L278.27,157.70 L278.77,157.70 L279.27,157.70 L279.77,157.70 L280.28,157.70 L280.78,157.70 L281.28,157.70 L281.78,157.70 L282.28,157.70 L282.79,157.70 L283.29,157.70 L283.79,157.70 L284.29,157.70 L284.80,157.70 L285.30,157.70 L285.80,157.70 L286.30,157.70 L286.80,157.70 L287.31,157.69 L287.81,157.69 L288.31,157.69 L288.81,157.69 L289.32,157.69 L289.82,157.69 L290.32,157.68 L290.82,157.68 L291.32,157.68 L291.83,157.67 L292.33,157.67 L292.83,157.66 L293.33,157.65 L293.84,157.65 L294.34,157.64 L294.84,157.63 L295.34,157.61 L295.84,157.60 L296.35,157.58 L296.85,157.56 L297.35,157.54 L297.85,157.51 L298.36,157.48 L298.86,157.45 L299.36,157.41 L299.86,157.36 L300.36,157.31 L300.87,157.26 L301.37,157.19 L301.87,157.12 L302.37,157.03 L302.88,156.94 L303.38,156.83 L303.88,156.71 L304.38,156.57 L304.88,156.42 L305.39,156.25 L305.89,156.06 L306.39,155.85 L306.89,155.62 L307.39,155.35 L307.90,155.07 L308.40,154.75 L308.90,154.39 L309.40,154.00 L309.91,153.58 L310.41,153.11 L310.91,152.59 L311.41,152.03 L311.91,151.42 L312.42,150.75 L312.92,150.02 L313.42,149.23 L313.92,148.38 L314.43,147.46 L314.93,146.46 L315.43,145.39 L315.93,144.24 L316.43,143.00 L316.94,141.68 L317.44,140.28 L317.94,138.77 L318.44,137.18 L318.95,135.49 L319.45,133.69 L319.95,131.80 L320.45,129.80 L320.95,127.70 L321.46,125.50 L321.96,123.19 L322.46,120.78 L322.96,118.27 L323.47,115.66 L323.97,112.95 L324.47,110.14 L324.97,107.24 L325.47,104.26 L325.98,101.20 L326.48,98.06 L326.98,94.85 L327.48,91.58 L327.99,88.25 L328.49,84.89 L328.99,81.48 L329.49,78.05 L329.99,74.61 L330.50,71.16 L331.00,67.72 L331.50,64.30 L332.00,60.92 L332.50,57.58 L333.01,54.30 L333.51,51.09 L334.01,47.96 L334.51,44.94 L335.02,42.02 L335.52,39.23 L336.02,36.57 L336.52,34.06 L337.02,31.72 L337.53,29.54 L338.03,27.54 L338.53,25.74 L339.03,24.13 L339.54,22.73 L340.04,21.55 L340.54,20.59 L341.04,19.85 L341.54,19.34 L342.05,19.06 L342.55,19.01 L343.05,19.20 L343.55,19.61 L344.06,20.26 L344.56,21.14 L345.06,22.23 L345.56,23.55 L346.06,25.07 L346.57,26.80 L347.07,28.72 L347.57,30.82 L348.07,33.10 L348.58,35.55 L349.08,38.15 L349.58,40.89 L350.08,43.75 L350.58,46.74 L351.09,49.83 L351.59,53.00 L352.09,56.26 L352.59,59.58 L353.10,62.95 L353.60,66.35 L354.10,69.78 L354.60,73.23 L355.10,76.68 L355.61,80.11 L356.11,83.53 L356.61,86.91 L357.11,90.25 L357.61,93.55 L358.12,96.78 L358.62,99.95 L359.12,103.05 L359.62,106.06 L360.13,108.99 L360.63,111.84 L361.13,114.59 L361.63,117.24 L362.13,119.79 L362.64,122.24 L363.14,124.59 L363.64,126.84 L364.14,128.98 L364.65,131.01 L365.15,132.95 L365.65,134.78 L366.15,136.51 L366.65,138.15 L367.16,139.69 L367.66,141.13 L368.16,142.49 L368.66,143.75 L369.17,144.94 L369.67,146.04 L370.17,147.07 L370.67,148.02 L371.17,148.90 L371.68,149.71 L372.18,150.46 L372.68,151.16 L373.18,151.79 L373.69,152.37 L374.19,152.91 L374.69,153.39 L375.19,153.84 L375.69,154.24 L376.20,154.61 L376.70,154.94 L377.20,155.24 L377.70,155.51 L378.21,155.76 L378.71,155.98 L379.21,156.18 L379.71,156.36 L380.21,156.51 L380.72,156.66 L381.22,156.78 L381.72,156.89 L382.22,156.99 L382.72,157.08 L383.23,157.16 L383.73,157.23 L384.23,157.29 L384.73,157.35 L385.24,157.39 L385.74,157.43 L386.24,157.47 L386.74,157.50 L387.24,157.53 L387.75,157.55 L388.25,157.57 L388.75,157.59 L389.25,157.61 L389.76,157.62 L390.26,157.63 L390.76,157.64 L391.26,157.65 L391.76,157.66 L392.27,157.66 L392.77,157.67 L393.27,157.67 L393.77,157.68 L394.28,157.68 L394.78,157.69 L395.28,157.69 L395.78,157.69 L396.28,157.69 L396.79,157.69 L397.29,157.69 L397.79,157.69 L398.29,157.70 L398.80,157.70 L399.30,157.70 L399.80,157.70 L400.30,157.70 L400.80,157.70 L401.31,157.70 L401.81,157.70 L402.31,157.70 L402.81,157.70 L403.32,157.70 L403.82,157.70 L404.32,157.70 L404.82,157.70 L405.32,157.70 L405.83,157.70 L406.33,157.70 L406.83,157.70 L407.33,157.70 L407.83,157.70 L408.34,157.70 L408.84,157.70 L409.34,157.70 L409.84,157.70 L410.35,157.70 L410.85,157.70 L411.35,157.70 L411.85,157.70 L412.35,157.70 L412.86,157.70 L413.36,157.70 L413.86,157.70 L414.36,157.70 L414.87,157.70 L415.37,157.70 L415.87,157.70 L416.37,157.70 L416.87,157.70 L417.38,157.70 L417.88,157.70 L418.38,157.70 L418.88,157.70 L419.39,157.70 L419.89,157.70 L420.39,157.70 L420.89,157.70 L421.39,157.70 L421.90,157.70 L422.40,157.70 L422.90,157.70 L423.40,157.70 L423.91,157.70 L424.41,157.70 L424.91,157.70 L425.41,157.70 L425.91,157.70 L426.42,157.70 L426.92,157.70 L427.42,157.70 L427.92,157.70 L428.43,157.70 L428.93,157.70 L429.43,157.70 L429.93,157.70 L430.43,157.70 L430.94,157.70 L431.44,157.70 L431.94,157.70 L432.44,157.70 L432.94,157.70 L433.45,157.70 L433.95,157.70 L434.45,157.70 L434.95,157.70 L435.46,157.70 L435.96,157.70 L436.46,157.70 L436.96,157.70 L437.46,157.70 L437.97,157.70 L438.47,157.70 L438.97,157.70 L439.47,157.70 L439.98,157.70 L440.48,157.70 L440.98,157.70 L441.48,157.70 L441.98,157.70 L442.49,157.70 L442.99,157.70 L443.49,157.70 L443.99,157.70 L444.50,157.70 L445.00,157.70 L445.50,157.70" fill="none" stroke="#000" stroke-width="1.2"/>
<text x="343.30" y="189.70" class="ax"><tspan font-style="italic">s / D</tspan><tspan class="sub" dy="2.3">1</tspan></text>
<text x="302.10" y="211.10" class="cb">(b)</text>
<text x="326.90" y="211.10" class="cm">a</text>
<text transform="translate(334.40,213.90) scale(1.65,1.25)" class="cr">/</text>
<text x="341.70" y="211.10" class="cm">d</text>
<text transform="translate(350.00,213.50) scale(1.25,1)" class="cs">τ</text>
<text transform="translate(361.00,213.00) scale(1.6,1.1)" class="cr">=</text>
<text x="377.00" y="211.10" class="cd">2</text>
</g>
<g>
<path d="M474.00,157.70 L474.00,157.70 L474.50,157.70 L475.00,157.70 L475.50,157.70 L476.00,157.70 L476.50,157.70 L477.00,157.70 L477.50,157.70 L478.00,157.70 L478.50,157.70 L479.00,157.70 L479.50,157.70 L480.00,157.70 L480.50,157.70 L481.00,157.69 L481.50,157.69 L482.00,157.69 L482.50,157.69 L483.00,157.69 L483.50,157.69 L484.00,157.68 L484.50,157.68 L485.00,157.68 L485.50,157.67 L486.00,157.67 L486.50,157.67 L487.00,157.66 L487.50,157.65 L488.00,157.65 L488.50,157.64 L489.00,157.63 L489.50,157.62 L490.00,157.60 L490.50,157.59 L491.00,157.57 L491.50,157.55 L492.00,157.53 L492.50,157.51 L493.00,157.48 L493.50,157.45 L494.00,157.42 L494.50,157.38 L495.00,157.34 L495.50,157.29 L496.00,157.24 L496.50,157.18 L497.00,157.11 L497.50,157.04 L498.00,156.96 L498.50,156.87 L499.00,156.78 L499.50,156.67 L500.00,156.55 L500.50,156.43 L501.00,156.29 L501.50,156.14 L502.00,155.97 L502.50,155.79 L503.00,155.60 L503.50,155.39 L504.00,155.16 L504.50,154.92 L505.00,154.66 L505.50,154.38 L506.00,154.08 L506.50,153.76 L507.00,153.41 L507.50,153.05 L508.00,152.66 L508.50,152.25 L509.00,151.81 L509.50,151.35 L510.00,150.87 L510.50,150.35 L511.00,149.82 L511.50,149.25 L512.00,148.66 L512.50,148.05 L513.00,147.41 L513.50,146.74 L514.00,146.05 L514.50,145.33 L515.00,144.58 L515.50,143.82 L516.00,143.02 L516.50,142.21 L517.00,141.38 L517.50,140.52 L518.00,139.65 L518.50,138.75 L519.00,137.85 L519.50,136.92 L520.00,135.99 L520.50,135.04 L521.00,134.08 L521.50,133.11 L522.00,132.14 L522.50,131.16 L523.00,130.18 L523.50,129.20 L524.00,128.22 L524.50,127.25 L525.00,126.28 L525.50,125.31 L526.00,124.36 L526.50,123.41 L527.00,122.48 L527.50,121.56 L528.00,120.66 L528.50,119.78 L529.00,118.91 L529.50,118.07 L530.00,117.25 L530.50,116.44 L531.00,115.67 L531.50,114.91 L532.00,114.19 L532.50,113.48 L533.00,112.81 L533.50,112.16 L534.00,111.54 L534.50,110.94 L535.00,110.37 L535.50,109.83 L536.00,109.32 L536.50,108.83 L537.00,108.38 L537.50,107.94 L538.00,107.54 L538.50,107.15 L539.00,106.80 L539.50,106.47 L540.00,106.16 L540.50,105.87 L541.00,105.61 L541.50,105.36 L542.00,105.14 L542.50,104.93 L543.00,104.75 L543.50,104.58 L544.00,104.43 L544.50,104.29 L545.00,104.17 L545.50,104.07 L546.00,103.97 L546.50,103.89 L547.00,103.82 L547.50,103.76 L548.00,103.72 L548.50,103.68 L549.00,103.65 L549.50,103.62 L550.00,103.61 L550.50,103.60 L551.00,103.60 L551.50,103.60 L552.00,103.61 L552.50,103.63 L553.00,103.65 L553.50,103.67 L554.00,103.70 L554.50,103.73 L555.00,103.76 L555.50,103.79 L556.00,103.83 L556.50,103.87 L557.00,103.91 L557.50,103.95 L558.00,104.00 L558.50,104.05 L559.00,104.09 L559.50,104.14 L560.00,104.19 L560.50,104.24 L561.00,104.29 L561.50,104.35 L562.00,104.40 L562.50,104.45 L563.00,104.51 L563.50,104.56 L564.00,104.62 L564.50,104.67 L565.00,104.73 L565.50,104.78 L566.00,104.84 L566.50,104.90 L567.00,104.96 L567.50,105.02 L568.00,105.08 L568.50,105.14 L569.00,105.20 L569.50,105.26 L570.00,105.32 L570.50,105.39 L571.00,105.45 L571.50,105.52 L572.00,105.59 L572.50,105.66 L573.00,105.73 L573.50,105.81 L574.00,105.88 L574.50,105.96 L575.00,106.05 L575.50,106.13 L576.00,106.22 L576.50,106.32 L577.00,106.41 L577.50,106.52 L578.00,106.63 L578.50,106.74 L579.00,106.86 L579.50,106.99 L580.00,107.12 L580.50,107.26 L581.00,107.41 L581.50,107.57 L582.00,107.74 L582.50,107.92 L583.00,108.11 L583.50,108.31 L584.00,108.52 L584.50,108.75 L585.00,108.99 L585.50,109.24 L586.00,109.51 L586.50,109.80 L587.00,110.10 L587.50,110.42 L588.00,110.75 L588.50,111.11 L589.00,111.48 L589.50,111.88 L590.00,112.29 L590.50,112.73 L591.00,113.18 L591.50,113.66 L592.00,114.16 L592.50,114.68 L593.00,115.22 L593.50,115.79 L594.00,116.37 L594.50,116.98 L595.00,117.61 L595.50,118.26 L596.00,118.94 L596.50,119.63 L597.00,120.34 L597.50,121.07 L598.00,121.82 L598.50,122.59 L599.00,123.38 L599.50,124.17 L600.00,124.99 L600.50,125.81 L601.00,126.65 L601.50,127.50 L602.00,128.36 L602.50,129.22 L603.00,130.09 L603.50,130.97 L604.00,131.85 L604.50,132.72 L605.00,133.60 L605.50,134.48 L606.00,135.35 L606.50,136.21 L607.00,137.07 L607.50,137.92 L608.00,138.76 L608.50,139.59 L609.00,140.41 L609.50,141.21 L610.00,141.99 L610.50,142.76 L611.00,143.51 L611.50,144.25 L612.00,144.96 L612.50,145.65 L613.00,146.32 L613.50,146.97 L614.00,147.60 L614.50,148.21 L615.00,148.79 L615.50,149.35 L616.00,149.89 L616.50,150.40 L617.00,150.89 L617.50,151.35 L618.00,151.80 L618.50,152.22 L619.00,152.62 L619.50,153.00 L620.00,153.35 L620.50,153.69 L621.00,154.01 L621.50,154.30 L622.00,154.58 L622.50,154.84 L623.00,155.08 L623.50,155.31 L624.00,155.52 L624.50,155.71 L625.00,155.89 L625.50,156.06 L626.00,156.22 L626.50,156.36 L627.00,156.49 L627.50,156.61 L628.00,156.72 L628.50,156.82 L629.00,156.91 L629.50,156.99 L630.00,157.07 L630.50,157.13 L631.00,157.20 L631.50,157.25 L632.00,157.30 L632.50,157.35 L633.00,157.39 L633.50,157.42 L634.00,157.46 L634.50,157.49 L635.00,157.51 L635.50,157.54 L636.00,157.56 L636.50,157.57 L637.00,157.59 L637.50,157.60 L638.00,157.62 L638.50,157.63 L639.00,157.64 L639.50,157.65 L640.00,157.65 L640.50,157.66 L641.00,157.67 L641.50,157.67 L642.00,157.67 L642.50,157.68 L643.00,157.68 L643.50,157.68 L644.00,157.69 L644.50,157.69 L645.00,157.69 L645.50,157.69 L646.00,157.69 L646.50,157.69 L647.00,157.70 L647.50,157.70 L648.00,157.70 L648.50,157.70 L649.00,157.70 L649.50,157.70 L650.00,157.70 L650.50,157.70 L651.00,157.70 L651.50,157.70 L652.00,157.70 L652.50,157.70 L653.00,157.70 L653.50,157.70 L654.00,157.70 L654.50,157.70 L655.00,157.70 L655.50,157.70 L656.00,157.70 L656.50,157.70 L657.00,157.70 L657.50,157.70 L658.00,157.70 L658.50,157.70 L659.00,157.70 L659.50,157.70 L660.00,157.70 L660.50,157.70 L661.00,157.70 L661.50,157.70 L662.00,157.70 L662.50,157.70 L663.00,157.70 L663.50,157.70 L664.00,157.70 L664.50,157.70 L665.00,157.70 L665.50,157.70 L666.00,157.70 L666.50,157.70 L667.00,157.70 L667.50,157.70 L668.00,157.70 L668.50,157.70 L669.00,157.70 L669.50,157.70 L670.00,157.70 L670.50,157.70 L671.00,157.70 L671.50,157.70 L672.00,157.70 L672.50,157.70 L673.00,157.70 L673.50,157.70 L674.00,157.70 L674.50,157.70 L675.00,157.70 L675.50,157.70 L676.00,157.70 L676.50,157.70 L677.00,157.70 L677.50,157.70 L678.00,157.70 L678.50,157.70 L678.50,157.70 Z" fill="#7b7b7b"/>
<path d="M474.00,162.30 V1.90 H678.50 V162.30" fill="none" stroke="#444" stroke-width="1.15"/>
<line x1="474.00" y1="157.70" x2="474.00" y2="157.70" stroke="#666" stroke-width="1"/>
<text x="474.00" y="173.10" class="tk">0.1</text>
<line x1="508.08" y1="157.70" x2="508.08" y2="162.30" stroke="#666" stroke-width="1"/>
<text x="508.08" y="173.10" class="tk">0.15</text>
<line x1="542.17" y1="157.70" x2="542.17" y2="162.30" stroke="#666" stroke-width="1"/>
<text x="542.17" y="173.10" class="tk">0.2</text>
<line x1="576.25" y1="157.70" x2="576.25" y2="162.30" stroke="#666" stroke-width="1"/>
<text x="576.25" y="173.10" class="tk">0.25</text>
<line x1="610.33" y1="157.70" x2="610.33" y2="162.30" stroke="#666" stroke-width="1"/>
<text x="610.33" y="173.10" class="tk">0.3</text>
<line x1="644.42" y1="157.70" x2="644.42" y2="162.30" stroke="#666" stroke-width="1"/>
<text x="644.42" y="173.10" class="tk">0.35</text>
<line x1="678.50" y1="157.70" x2="678.50" y2="157.70" stroke="#666" stroke-width="1"/>
<text x="678.50" y="173.10" class="tk">0.4</text>
<line x1="474.00" y1="157.70" x2="678.50" y2="157.70" stroke="#000" stroke-width="1.4"/>
<path d="M474.00,157.70 L474.50,157.70 L475.00,157.70 L475.50,157.70 L476.00,157.70 L476.50,157.70 L477.00,157.70 L477.50,157.70 L478.00,157.70 L478.50,157.70 L479.00,157.70 L479.50,157.70 L480.00,157.70 L480.50,157.70 L481.00,157.70 L481.50,157.69 L482.00,157.69 L482.50,157.69 L483.00,157.69 L483.50,157.69 L484.00,157.69 L484.50,157.68 L485.00,157.68 L485.50,157.68 L486.00,157.68 L486.50,157.67 L487.00,157.67 L487.50,157.66 L488.00,157.65 L488.50,157.65 L489.00,157.64 L489.50,157.63 L490.00,157.62 L490.50,157.61 L491.00,157.59 L491.50,157.58 L492.00,157.56 L492.50,157.54 L493.00,157.52 L493.50,157.50 L494.00,157.47 L494.50,157.44 L495.00,157.40 L495.50,157.37 L496.00,157.32 L496.50,157.28 L497.00,157.23 L497.50,157.17 L498.00,157.11 L498.50,157.04 L499.00,156.96 L499.50,156.88 L500.00,156.78 L500.50,156.68 L501.00,156.57 L501.50,156.45 L502.00,156.33 L502.50,156.18 L503.00,156.03 L503.50,155.87 L504.00,155.69 L504.50,155.50 L505.00,155.30 L505.50,155.08 L506.00,154.84 L506.50,154.59 L507.00,154.32 L507.50,154.04 L508.00,153.74 L508.50,153.42 L509.00,153.08 L509.50,152.72 L510.00,152.34 L510.50,151.94 L511.00,151.53 L511.50,151.09 L512.00,150.63 L512.50,150.16 L513.00,149.66 L513.50,149.14 L514.00,148.60 L514.50,148.05 L515.00,147.47 L515.50,146.88 L516.00,146.27 L516.50,145.64 L517.00,144.99 L517.50,144.33 L518.00,143.65 L518.50,142.96 L519.00,142.26 L519.50,141.54 L520.00,140.82 L520.50,140.09 L521.00,139.34 L521.50,138.60 L522.00,137.84 L522.50,137.08 L523.00,136.33 L523.50,135.56 L524.00,134.81 L524.50,134.05 L525.00,133.29 L525.50,132.55 L526.00,131.80 L526.50,131.07 L527.00,130.35 L527.50,129.63 L528.00,128.93 L528.50,128.24 L529.00,127.57 L529.50,126.91 L530.00,126.26 L530.50,125.64 L531.00,125.03 L531.50,124.44 L532.00,123.87 L532.50,123.31 L533.00,122.78 L533.50,122.27 L534.00,121.78 L534.50,121.31 L535.00,120.86 L535.50,120.44 L536.00,120.03 L536.50,119.65 L537.00,119.28 L537.50,118.94 L538.00,118.61 L538.50,118.31 L539.00,118.02 L539.50,117.76 L540.00,117.51 L540.50,117.28 L541.00,117.07 L541.50,116.87 L542.00,116.69 L542.50,116.52 L543.00,116.37 L543.50,116.23 L544.00,116.11 L544.50,116.00 L545.00,115.90 L545.50,115.81 L546.00,115.73 L546.50,115.66 L547.00,115.60 L547.50,115.55 L548.00,115.51 L548.50,115.48 L549.00,115.45 L549.50,115.43 L550.00,115.41 L550.50,115.40 L551.00,115.40 L551.50,115.40 L552.00,115.41 L552.50,115.41 L553.00,115.43 L553.50,115.44 L554.00,115.46 L554.50,115.48 L555.00,115.51 L555.50,115.53 L556.00,115.56 L556.50,115.59 L557.00,115.62 L557.50,115.65 L558.00,115.69 L558.50,115.72 L559.00,115.76 L559.50,115.80 L560.00,115.83 L560.50,115.87 L561.00,115.91 L561.50,115.95 L562.00,115.99 L562.50,116.03 L563.00,116.07 L563.50,116.11 L564.00,116.16 L564.50,116.20 L565.00,116.24 L565.50,116.28 L566.00,116.32 L566.50,116.37 L567.00,116.41 L567.50,116.45 L568.00,116.50 L568.50,116.54 L569.00,116.58 L569.50,116.62 L570.00,116.67 L570.50,116.71 L571.00,116.75 L571.50,116.80 L572.00,116.84 L572.50,116.88 L573.00,116.93 L573.50,116.97 L574.00,117.01 L574.50,117.06 L575.00,117.10 L575.50,117.14 L576.00,117.19 L576.50,117.23 L577.00,117.27 L577.50,117.32 L578.00,117.36 L578.50,117.40 L579.00,117.45 L579.50,117.49 L580.00,117.53 L580.50,117.58 L581.00,117.62 L581.50,117.67 L582.00,117.71 L582.50,117.75 L583.00,117.80 L583.50,117.84 L584.00,117.88 L584.50,117.93 L585.00,117.97 L585.50,118.02 L586.00,118.06 L586.50,118.11 L587.00,118.15 L587.50,118.20 L588.00,118.24 L588.50,118.29 L589.00,118.33 L589.50,118.38 L590.00,118.43 L590.50,118.48 L591.00,118.52 L591.50,118.57 L592.00,118.62 L592.50,118.67 L593.00,118.73 L593.50,118.78 L594.00,118.83 L594.50,118.89 L595.00,118.94 L595.50,119.00 L596.00,119.06 L596.50,119.13 L597.00,119.19 L597.50,119.26 L598.00,119.33 L598.50,119.40 L599.00,119.48 L599.50,119.56 L600.00,119.65 L600.50,119.74 L601.00,119.83 L601.50,119.93 L602.00,120.03 L602.50,120.14 L603.00,120.26 L603.50,120.39 L604.00,120.52 L604.50,120.65 L605.00,120.80 L605.50,120.96 L606.00,121.12 L606.50,121.30 L607.00,121.48 L607.50,121.68 L608.00,121.88 L608.50,122.10 L609.00,122.33 L609.50,122.58 L610.00,122.84 L610.50,123.11 L611.00,123.39 L611.50,123.69 L612.00,124.01 L612.50,124.34 L613.00,124.68 L613.50,125.04 L614.00,125.42 L614.50,125.81 L615.00,126.22 L615.50,126.64 L616.00,127.08 L616.50,127.54 L617.00,128.01 L617.50,128.50 L618.00,129.00 L618.50,129.52 L619.00,130.05 L619.50,130.60 L620.00,131.16 L620.50,131.73 L621.00,132.31 L621.50,132.91 L622.00,133.51 L622.50,134.12 L623.00,134.74 L623.50,135.37 L624.00,136.01 L624.50,136.65 L625.00,137.29 L625.50,137.94 L626.00,138.59 L626.50,139.24 L627.00,139.88 L627.50,140.53 L628.00,141.17 L628.50,141.81 L629.00,142.44 L629.50,143.07 L630.00,143.69 L630.50,144.30 L631.00,144.90 L631.50,145.49 L632.00,146.07 L632.50,146.64 L633.00,147.19 L633.50,147.73 L634.00,148.25 L634.50,148.76 L635.00,149.26 L635.50,149.74 L636.00,150.20 L636.50,150.65 L637.00,151.08 L637.50,151.49 L638.00,151.88 L638.50,152.26 L639.00,152.62 L639.50,152.97 L640.00,153.30 L640.50,153.61 L641.00,153.90 L641.50,154.18 L642.00,154.45 L642.50,154.70 L643.00,154.93 L643.50,155.15 L644.00,155.36 L644.50,155.55 L645.00,155.73 L645.50,155.90 L646.00,156.06 L646.50,156.20 L647.00,156.34 L647.50,156.46 L648.00,156.58 L648.50,156.68 L649.00,156.78 L649.50,156.87 L650.00,156.95 L650.50,157.03 L651.00,157.10 L651.50,157.16 L652.00,157.21 L652.50,157.27 L653.00,157.31 L653.50,157.36 L654.00,157.39 L654.50,157.43 L655.00,157.46 L655.50,157.49 L656.00,157.51 L656.50,157.53 L657.00,157.55 L657.50,157.57 L658.00,157.59 L658.50,157.60 L659.00,157.61 L659.50,157.63 L660.00,157.63 L660.50,157.64 L661.00,157.65 L661.50,157.66 L662.00,157.66 L662.50,157.67 L663.00,157.67 L663.50,157.68 L664.00,157.68 L664.50,157.68 L665.00,157.69 L665.50,157.69 L666.00,157.69 L666.50,157.69 L667.00,157.69 L667.50,157.69 L668.00,157.69 L668.50,157.70 L669.00,157.70 L669.50,157.70 L670.00,157.70 L670.50,157.70 L671.00,157.70 L671.50,157.70 L672.00,157.70 L672.50,157.70 L673.00,157.70 L673.50,157.70 L674.00,157.70 L674.50,157.70 L675.00,157.70 L675.50,157.70 L676.00,157.70 L676.50,157.70 L677.00,157.70 L677.50,157.70 L678.00,157.70 L678.50,157.70" fill="none" stroke="#000" stroke-width="1.2" stroke-dasharray="3.2,2.2"/>
<path d="M474.00,157.70 L474.50,157.70 L475.00,157.70 L475.50,157.70 L476.00,157.70 L476.50,157.70 L477.00,157.70 L477.50,157.70 L478.00,157.70 L478.50,157.70 L479.00,157.70 L479.50,157.70 L480.00,157.70 L480.50,157.70 L481.00,157.70 L481.50,157.70 L482.00,157.70 L482.50,157.70 L483.00,157.70 L483.50,157.70 L484.00,157.70 L484.50,157.70 L485.00,157.70 L485.50,157.70 L486.00,157.70 L486.50,157.70 L487.00,157.70 L487.50,157.70 L488.00,157.70 L488.50,157.70 L489.00,157.70 L489.50,157.70 L490.00,157.70 L490.50,157.70 L491.00,157.70 L491.50,157.70 L492.00,157.70 L492.50,157.70 L493.00,157.70 L493.50,157.70 L494.00,157.70 L494.50,157.70 L495.00,157.70 L495.50,157.70 L496.00,157.70 L496.50,157.70 L497.00,157.70 L497.50,157.70 L498.00,157.70 L498.50,157.70 L499.00,157.70 L499.50,157.70 L500.00,157.70 L500.50,157.70 L501.00,157.70 L501.50,157.70 L502.00,157.70 L502.50,157.70 L503.00,157.70 L503.50,157.70 L504.00,157.70 L504.50,157.70 L505.00,157.70 L505.50,157.70 L506.00,157.70 L506.50,157.70 L507.00,157.70 L507.50,157.70 L508.00,157.70 L508.50,157.70 L509.00,157.70 L509.50,157.70 L510.00,157.70 L510.50,157.70 L511.00,157.70 L511.50,157.70 L512.00,157.70 L512.50,157.70 L513.00,157.70 L513.50,157.70 L514.00,157.70 L514.50,157.70 L515.00,157.70 L515.50,157.70 L516.00,157.70 L516.50,157.70 L517.00,157.70 L517.50,157.70 L518.00,157.70 L518.50,157.70 L519.00,157.70 L519.50,157.70 L520.00,157.70 L520.50,157.70 L521.00,157.69 L521.50,157.69 L522.00,157.69 L522.50,157.69 L523.00,157.69 L523.50,157.69 L524.00,157.68 L524.50,157.68 L525.00,157.68 L525.50,157.67 L526.00,157.67 L526.50,157.66 L527.00,157.65 L527.50,157.65 L528.00,157.64 L528.50,157.63 L529.00,157.61 L529.50,157.60 L530.00,157.58 L530.50,157.56 L531.00,157.54 L531.50,157.51 L532.00,157.48 L532.50,157.45 L533.00,157.41 L533.50,157.36 L534.00,157.31 L534.50,157.26 L535.00,157.19 L535.50,157.12 L536.00,157.03 L536.50,156.94 L537.00,156.83 L537.50,156.71 L538.00,156.57 L538.50,156.42 L539.00,156.25 L539.50,156.06 L540.00,155.85 L540.50,155.62 L541.00,155.35 L541.50,155.07 L542.00,154.75 L542.50,154.39 L543.00,154.00 L543.50,153.58 L544.00,153.11 L544.50,152.59 L545.00,152.03 L545.50,151.42 L546.00,150.75 L546.50,150.02 L547.00,149.23 L547.50,148.38 L548.00,147.46 L548.50,146.46 L549.00,145.39 L549.50,144.24 L550.00,143.00 L550.50,141.68 L551.00,140.28 L551.50,138.77 L552.00,137.18 L552.50,135.49 L553.00,133.69 L553.50,131.80 L554.00,129.80 L554.50,127.70 L555.00,125.50 L555.50,123.19 L556.00,120.78 L556.50,118.27 L557.00,115.66 L557.50,112.95 L558.00,110.14 L558.50,107.24 L559.00,104.26 L559.50,101.20 L560.00,98.06 L560.50,94.85 L561.00,91.58 L561.50,88.25 L562.00,84.89 L562.50,81.48 L563.00,78.05 L563.50,74.61 L564.00,71.16 L564.50,67.72 L565.00,64.30 L565.50,60.92 L566.00,57.58 L566.50,54.30 L567.00,51.09 L567.50,47.96 L568.00,44.94 L568.50,42.02 L569.00,39.23 L569.50,36.57 L570.00,34.06 L570.50,31.72 L571.00,29.54 L571.50,27.54 L572.00,25.74 L572.50,24.13 L573.00,22.73 L573.50,21.55 L574.00,20.59 L574.50,19.85 L575.00,19.34 L575.50,19.06 L576.00,19.01 L576.50,19.20 L577.00,19.61 L577.50,20.26 L578.00,21.14 L578.50,22.23 L579.00,23.55 L579.50,25.07 L580.00,26.80 L580.50,28.72 L581.00,30.82 L581.50,33.10 L582.00,35.55 L582.50,38.15 L583.00,40.89 L583.50,43.75 L584.00,46.74 L584.50,49.83 L585.00,53.00 L585.50,56.26 L586.00,59.58 L586.50,62.95 L587.00,66.35 L587.50,69.78 L588.00,73.23 L588.50,76.68 L589.00,80.11 L589.50,83.53 L590.00,86.91 L590.50,90.25 L591.00,93.55 L591.50,96.78 L592.00,99.95 L592.50,103.05 L593.00,106.06 L593.50,108.99 L594.00,111.84 L594.50,114.59 L595.00,117.24 L595.50,119.79 L596.00,122.24 L596.50,124.59 L597.00,126.84 L597.50,128.98 L598.00,131.01 L598.50,132.95 L599.00,134.78 L599.50,136.51 L600.00,138.15 L600.50,139.69 L601.00,141.13 L601.50,142.49 L602.00,143.75 L602.50,144.94 L603.00,146.04 L603.50,147.07 L604.00,148.02 L604.50,148.90 L605.00,149.71 L605.50,150.46 L606.00,151.16 L606.50,151.79 L607.00,152.37 L607.50,152.91 L608.00,153.39 L608.50,153.84 L609.00,154.24 L609.50,154.61 L610.00,154.94 L610.50,155.24 L611.00,155.51 L611.50,155.76 L612.00,155.98 L612.50,156.18 L613.00,156.36 L613.50,156.51 L614.00,156.66 L614.50,156.78 L615.00,156.89 L615.50,156.99 L616.00,157.08 L616.50,157.16 L617.00,157.23 L617.50,157.29 L618.00,157.35 L618.50,157.39 L619.00,157.43 L619.50,157.47 L620.00,157.50 L620.50,157.53 L621.00,157.55 L621.50,157.57 L622.00,157.59 L622.50,157.61 L623.00,157.62 L623.50,157.63 L624.00,157.64 L624.50,157.65 L625.00,157.66 L625.50,157.66 L626.00,157.67 L626.50,157.67 L627.00,157.68 L627.50,157.68 L628.00,157.69 L628.50,157.69 L629.00,157.69 L629.50,157.69 L630.00,157.69 L630.50,157.69 L631.00,157.69 L631.50,157.70 L632.00,157.70 L632.50,157.70 L633.00,157.70 L633.50,157.70 L634.00,157.70 L634.50,157.70 L635.00,157.70 L635.50,157.70 L636.00,157.70 L636.50,157.70 L637.00,157.70 L637.50,157.70 L638.00,157.70 L638.50,157.70 L639.00,157.70 L639.50,157.70 L640.00,157.70 L640.50,157.70 L641.00,157.70 L641.50,157.70 L642.00,157.70 L642.50,157.70 L643.00,157.70 L643.50,157.70 L644.00,157.70 L644.50,157.70 L645.00,157.70 L645.50,157.70 L646.00,157.70 L646.50,157.70 L647.00,157.70 L647.50,157.70 L648.00,157.70 L648.50,157.70 L649.00,157.70 L649.50,157.70 L650.00,157.70 L650.50,157.70 L651.00,157.70 L651.50,157.70 L652.00,157.70 L652.50,157.70 L653.00,157.70 L653.50,157.70 L654.00,157.70 L654.50,157.70 L655.00,157.70 L655.50,157.70 L656.00,157.70 L656.50,157.70 L657.00,157.70 L657.50,157.70 L658.00,157.70 L658.50,157.70 L659.00,157.70 L659.50,157.70 L660.00,157.70 L660.50,157.70 L661.00,157.70 L661.50,157.70 L662.00,157.70 L662.50,157.70 L663.00,157.70 L663.50,157.70 L664.00,157.70 L664.50,157.70 L665.00,157.70 L665.50,157.70 L666.00,157.70 L666.50,157.70 L667.00,157.70 L667.50,157.70 L668.00,157.70 L668.50,157.70 L669.00,157.70 L669.50,157.70 L670.00,157.70 L670.50,157.70 L671.00,157.70 L671.50,157.70 L672.00,157.70 L672.50,157.70 L673.00,157.70 L673.50,157.70 L674.00,157.70 L674.50,157.70 L675.00,157.70 L675.50,157.70 L676.00,157.70 L676.50,157.70 L677.00,157.70 L677.50,157.70 L678.00,157.70 L678.50,157.70" fill="none" stroke="#000" stroke-width="1.2"/>
<text x="576.75" y="189.70" class="ax"><tspan font-style="italic">s / D</tspan><tspan class="sub" dy="2.3">1</tspan></text>
<text x="535.55" y="211.10" class="cb">(c)</text>
<text x="560.35" y="211.10" class="cm">a</text>
<text transform="translate(567.85,213.90) scale(1.65,1.25)" class="cr">/</text>
<text x="575.15" y="211.10" class="cm">d</text>
<text transform="translate(583.45,213.50) scale(1.25,1)" class="cs">τ</text>
<text transform="translate(594.45,213.00) scale(1.6,1.1)" class="cr">=</text>
<text x="610.45" y="211.10" class="cd">3</text>
</g>
<g>
<path d="M5.50,391.05 L5.50,391.05 L6.00,391.05 L6.50,391.05 L7.00,391.05 L7.50,391.05 L8.00,391.05 L8.50,391.05 L9.00,391.05 L9.50,391.05 L10.00,391.05 L10.50,391.05 L11.00,391.05 L11.50,391.05 L12.00,391.05 L12.50,391.05 L13.00,391.05 L13.50,391.05 L14.00,391.05 L14.50,391.05 L15.00,391.05 L15.50,391.05 L16.00,391.05 L16.50,391.05 L17.00,391.05 L17.50,391.05 L18.00,391.05 L18.50,391.05 L19.00,391.05 L19.50,391.05 L20.00,391.05 L20.50,391.05 L21.00,391.05 L21.50,391.05 L22.00,391.05 L22.50,391.05 L23.00,391.05 L23.50,391.05 L24.00,391.05 L24.50,391.05 L25.00,391.05 L25.50,391.05 L26.01,391.05 L26.51,391.05 L27.01,391.05 L27.51,391.05 L28.01,391.05 L28.51,391.05 L29.01,391.05 L29.51,391.05 L30.01,391.05 L30.51,391.05 L31.01,391.05 L31.51,391.05 L32.01,391.05 L32.51,391.05 L33.01,391.05 L33.51,391.05 L34.01,391.05 L34.51,391.05 L35.01,391.05 L35.51,391.05 L36.01,391.05 L36.51,391.05 L37.01,391.05 L37.51,391.05 L38.01,391.05 L38.51,391.05 L39.01,391.05 L39.51,391.05 L40.01,391.05 L40.51,391.05 L41.01,391.05 L41.51,391.05 L42.01,391.05 L42.51,391.05 L43.01,391.05 L43.51,391.05 L44.01,391.05 L44.51,391.05 L45.01,391.05 L45.51,391.05 L46.01,391.05 L46.51,391.05 L47.01,391.04 L47.51,391.04 L48.01,391.04 L48.51,391.04 L49.01,391.04 L49.51,391.04 L50.01,391.04 L50.51,391.03 L51.01,391.03 L51.51,391.03 L52.01,391.02 L52.51,391.02 L53.01,391.01 L53.51,391.01 L54.01,391.00 L54.51,390.99 L55.01,390.98 L55.51,390.98 L56.01,390.96 L56.51,390.95 L57.01,390.94 L57.51,390.92 L58.01,390.90 L58.51,390.88 L59.01,390.86 L59.51,390.83 L60.01,390.80 L60.51,390.77 L61.01,390.73 L61.51,390.69 L62.01,390.65 L62.51,390.59 L63.01,390.54 L63.51,390.47 L64.01,390.40 L64.51,390.32 L65.01,390.24 L65.51,390.14 L66.01,390.03 L66.51,389.92 L67.02,389.79 L67.52,389.65 L68.02,389.49 L68.52,389.32 L69.02,389.14 L69.52,388.94 L70.02,388.72 L70.52,388.48 L71.02,388.21 L71.52,387.93 L72.02,387.62 L72.52,387.29 L73.02,386.93 L73.52,386.55 L74.02,386.13 L74.52,385.68 L75.02,385.20 L75.52,384.68 L76.02,384.13 L76.52,383.54 L77.02,382.91 L77.52,382.23 L78.02,381.52 L78.52,380.76 L79.02,379.95 L79.52,379.09 L80.02,378.19 L80.52,377.23 L81.02,376.23 L81.52,375.17 L82.02,374.05 L82.52,372.88 L83.02,371.66 L83.52,370.38 L84.02,369.04 L84.52,367.64 L85.02,366.19 L85.52,364.68 L86.02,363.11 L86.52,361.48 L87.02,359.80 L87.52,358.06 L88.02,356.26 L88.52,354.42 L89.02,352.52 L89.52,350.57 L90.02,348.58 L90.52,346.54 L91.02,344.46 L91.52,342.33 L92.02,340.17 L92.52,337.98 L93.02,335.75 L93.52,333.50 L94.02,331.23 L94.52,328.94 L95.02,326.63 L95.52,324.31 L96.02,321.99 L96.52,319.67 L97.02,317.35 L97.52,315.04 L98.02,312.75 L98.52,310.48 L99.02,308.23 L99.52,306.02 L100.02,303.83 L100.52,301.70 L101.02,299.60 L101.52,297.56 L102.02,295.58 L102.52,293.66 L103.02,291.80 L103.52,290.02 L104.02,288.32 L104.52,286.69 L105.02,285.16 L105.52,283.71 L106.02,282.36 L106.52,281.10 L107.02,279.95 L107.52,278.90 L108.03,277.96 L108.53,277.13 L109.03,276.41 L109.53,275.80 L110.03,275.32 L110.53,274.95 L111.03,274.69 L111.53,274.56 L112.03,274.55 L112.53,274.66 L113.03,274.89 L113.53,275.23 L114.03,275.70 L114.53,276.28 L115.03,276.97 L115.53,277.78 L116.03,278.70 L116.53,279.73 L117.03,280.86 L117.53,282.10 L118.03,283.43 L118.53,284.86 L119.03,286.38 L119.53,287.99 L120.03,289.67 L120.53,291.44 L121.03,293.28 L121.53,295.19 L122.03,297.16 L122.53,299.19 L123.03,301.27 L123.53,303.40 L124.03,305.58 L124.53,307.79 L125.03,310.03 L125.53,312.30 L126.03,314.58 L126.53,316.89 L127.03,319.21 L127.53,321.53 L128.03,323.85 L128.53,326.17 L129.03,328.48 L129.53,330.77 L130.03,333.05 L130.53,335.30 L131.03,337.53 L131.53,339.74 L132.03,341.90 L132.53,344.03 L133.03,346.13 L133.53,348.17 L134.03,350.18 L134.53,352.14 L135.03,354.04 L135.53,355.90 L136.03,357.70 L136.53,359.45 L137.03,361.15 L137.53,362.78 L138.03,364.37 L138.53,365.89 L139.03,367.36 L139.53,368.76 L140.03,370.11 L140.53,371.41 L141.03,372.64 L141.53,373.82 L142.03,374.95 L142.53,376.02 L143.03,377.04 L143.53,378.00 L144.03,378.92 L144.53,379.78 L145.03,380.60 L145.53,381.37 L146.03,382.09 L146.53,382.77 L147.03,383.41 L147.53,384.01 L148.03,384.57 L148.53,385.10 L149.04,385.59 L149.54,386.04 L150.04,386.46 L150.54,386.86 L151.04,387.22 L151.54,387.56 L152.04,387.87 L152.54,388.16 L153.04,388.43 L153.54,388.67 L154.04,388.89 L154.54,389.10 L155.04,389.29 L155.54,389.46 L156.04,389.62 L156.54,389.76 L157.04,389.89 L157.54,390.01 L158.04,390.12 L158.54,390.22 L159.04,390.31 L159.54,390.39 L160.04,390.46 L160.54,390.52 L161.04,390.58 L161.54,390.64 L162.04,390.68 L162.54,390.73 L163.04,390.76 L163.54,390.80 L164.04,390.83 L164.54,390.85 L165.04,390.88 L165.54,390.90 L166.04,390.92 L166.54,390.93 L167.04,390.95 L167.54,390.96 L168.04,390.97 L168.54,390.98 L169.04,390.99 L169.54,391.00 L170.04,391.01 L170.54,391.01 L171.04,391.02 L171.54,391.02 L172.04,391.03 L172.54,391.03 L173.04,391.03 L173.54,391.03 L174.04,391.04 L174.54,391.04 L175.04,391.04 L175.54,391.04 L176.04,391.04 L176.54,391.04 L177.04,391.04 L177.54,391.05 L178.04,391.05 L178.54,391.05 L179.04,391.05 L179.54,391.05 L180.04,391.05 L180.54,391.05 L181.04,391.05 L181.54,391.05 L182.04,391.05 L182.54,391.05 L183.04,391.05 L183.54,391.05 L184.04,391.05 L184.54,391.05 L185.04,391.05 L185.54,391.05 L186.04,391.05 L186.54,391.05 L187.04,391.05 L187.54,391.05 L188.04,391.05 L188.54,391.05 L189.04,391.05 L189.54,391.05 L190.05,391.05 L190.55,391.05 L191.05,391.05 L191.55,391.05 L192.05,391.05 L192.55,391.05 L193.05,391.05 L193.55,391.05 L194.05,391.05 L194.55,391.05 L195.05,391.05 L195.55,391.05 L196.05,391.05 L196.55,391.05 L197.05,391.05 L197.55,391.05 L198.05,391.05 L198.55,391.05 L199.05,391.05 L199.55,391.05 L200.05,391.05 L200.55,391.05 L201.05,391.05 L201.55,391.05 L202.05,391.05 L202.55,391.05 L203.05,391.05 L203.55,391.05 L204.05,391.05 L204.55,391.05 L205.05,391.05 L205.55,391.05 L206.05,391.05 L206.55,391.05 L207.05,391.05 L207.55,391.05 L208.05,391.05 L208.55,391.05 L209.05,391.05 L209.55,391.05 L210.05,391.05 L210.05,391.05 Z" fill="#7b7b7b"/>
<path d="M5.50,395.65 V235.50 H210.05 V395.65" fill="none" stroke="#444" stroke-width="1.15"/>
<line x1="5.50" y1="391.05" x2="5.50" y2="391.05" stroke="#666" stroke-width="1"/>
<text x="5.50" y="407.25" class="tk">0.1</text>
<line x1="39.59" y1="391.05" x2="39.59" y2="395.65" stroke="#666" stroke-width="1"/>
<text x="39.59" y="407.25" class="tk">0.15</text>
<line x1="73.68" y1="391.05" x2="73.68" y2="395.65" stroke="#666" stroke-width="1"/>
<text x="73.68" y="407.25" class="tk">0.2</text>
<line x1="107.78" y1="391.05" x2="107.78" y2="395.65" stroke="#666" stroke-width="1"/>
<text x="107.78" y="407.25" class="tk">0.25</text>
<line x1="141.87" y1="391.05" x2="141.87" y2="395.65" stroke="#666" stroke-width="1"/>
<text x="141.87" y="407.25" class="tk">0.3</text>
<line x1="175.96" y1="391.05" x2="175.96" y2="395.65" stroke="#666" stroke-width="1"/>
<text x="175.96" y="407.25" class="tk">0.35</text>
<line x1="210.05" y1="391.05" x2="210.05" y2="391.05" stroke="#666" stroke-width="1"/>
<text x="210.05" y="407.25" class="tk">0.4</text>
<line x1="5.50" y1="391.05" x2="210.05" y2="391.05" stroke="#000" stroke-width="1.4"/>
<path d="M5.50,391.05 L6.00,391.05 L6.50,391.05 L7.00,391.05 L7.50,391.05 L8.00,391.05 L8.50,391.05 L9.00,391.05 L9.50,391.05 L10.00,391.05 L10.50,391.05 L11.00,391.05 L11.50,391.05 L12.00,391.05 L12.50,391.05 L13.00,391.05 L13.50,391.05 L14.00,391.05 L14.50,391.05 L15.00,391.05 L15.50,391.05 L16.00,391.05 L16.50,391.05 L17.00,391.05 L17.50,391.05 L18.00,391.05 L18.50,391.05 L19.00,391.05 L19.50,391.05 L20.00,391.05 L20.50,391.05 L21.00,391.05 L21.50,391.05 L22.00,391.05 L22.50,391.05 L23.00,391.05 L23.50,391.05 L24.00,391.05 L24.50,391.05 L25.00,391.05 L25.50,391.05 L26.01,391.05 L26.51,391.05 L27.01,391.05 L27.51,391.05 L28.01,391.05 L28.51,391.05 L29.01,391.05 L29.51,391.05 L30.01,391.05 L30.51,391.05 L31.01,391.05 L31.51,391.05 L32.01,391.05 L32.51,391.05 L33.01,391.05 L33.51,391.05 L34.01,391.05 L34.51,391.05 L35.01,391.05 L35.51,391.05 L36.01,391.05 L36.51,391.05 L37.01,391.05 L37.51,391.05 L38.01,391.05 L38.51,391.05 L39.01,391.05 L39.51,391.05 L40.01,391.05 L40.51,391.05 L41.01,391.04 L41.51,391.04 L42.01,391.04 L42.51,391.04 L43.01,391.04 L43.51,391.04 L44.01,391.04 L44.51,391.03 L45.01,391.03 L45.51,391.03 L46.01,391.03 L46.51,391.02 L47.01,391.02 L47.51,391.01 L48.01,391.01 L48.51,391.00 L49.01,390.99 L49.51,390.98 L50.01,390.97 L50.51,390.96 L51.01,390.95 L51.51,390.93 L52.01,390.91 L52.51,390.89 L53.01,390.87 L53.51,390.85 L54.01,390.82 L54.51,390.79 L55.01,390.75 L55.51,390.71 L56.01,390.67 L56.51,390.62 L57.01,390.57 L57.51,390.51 L58.01,390.44 L58.51,390.37 L59.01,390.28 L59.51,390.19 L60.01,390.09 L60.51,389.98 L61.01,389.86 L61.51,389.73 L62.01,389.58 L62.51,389.42 L63.01,389.25 L63.51,389.06 L64.01,388.85 L64.51,388.62 L65.01,388.38 L65.51,388.11 L66.01,387.82 L66.51,387.51 L67.02,387.18 L67.52,386.82 L68.02,386.43 L68.52,386.01 L69.02,385.57 L69.52,385.09 L70.02,384.58 L70.52,384.04 L71.02,383.46 L71.52,382.84 L72.02,382.19 L72.52,381.49 L73.02,380.76 L73.52,379.98 L74.02,379.17 L74.52,378.31 L75.02,377.40 L75.52,376.45 L76.02,375.46 L76.52,374.42 L77.02,373.33 L77.52,372.20 L78.02,371.02 L78.52,369.79 L79.02,368.52 L79.52,367.20 L80.02,365.84 L80.52,364.43 L81.02,362.98 L81.52,361.48 L82.02,359.95 L82.52,358.37 L83.02,356.76 L83.52,355.11 L84.02,353.43 L84.52,351.71 L85.02,349.97 L85.52,348.20 L86.02,346.40 L86.52,344.58 L87.02,342.74 L87.52,340.89 L88.02,339.03 L88.52,337.15 L89.02,335.27 L89.52,333.39 L90.02,331.50 L90.52,329.62 L91.02,327.75 L91.52,325.89 L92.02,324.04 L92.52,322.22 L93.02,320.41 L93.52,318.63 L94.02,316.88 L94.52,315.16 L95.02,313.47 L95.52,311.82 L96.02,310.22 L96.52,308.66 L97.02,307.15 L97.52,305.68 L98.02,304.27 L98.52,302.92 L99.02,301.62 L99.52,300.38 L100.02,299.21 L100.52,298.10 L101.02,297.05 L101.52,296.07 L102.02,295.16 L102.52,294.33 L103.02,293.56 L103.52,292.87 L104.02,292.25 L104.52,291.71 L105.02,291.24 L105.52,290.85 L106.02,290.53 L106.52,290.30 L107.02,290.14 L107.52,290.05 L108.03,290.05 L108.53,290.12 L109.03,290.27 L109.53,290.50 L110.03,290.80 L110.53,291.18 L111.03,291.64 L111.53,292.17 L112.03,292.77 L112.53,293.45 L113.03,294.19 L113.53,295.01 L114.03,295.90 L114.53,296.85 L115.03,297.87 L115.53,298.95 L116.03,300.10 L116.53,301.30 L117.03,302.57 L117.53,303.89 L118.03,305.26 L118.53,306.69 L119.03,308.16 L119.53,309.68 L120.03,311.24 L120.53,312.85 L121.03,314.49 L121.53,316.17 L122.03,317.88 L122.53,319.61 L123.03,321.38 L123.53,323.16 L124.03,324.97 L124.53,326.79 L125.03,328.62 L125.53,330.46 L126.03,332.31 L126.53,334.16 L127.03,336.01 L127.53,337.86 L128.03,339.70 L128.53,341.53 L129.03,343.35 L129.53,345.15 L130.03,346.93 L130.53,348.69 L131.03,350.43 L131.53,352.14 L132.03,353.82 L132.53,355.47 L133.03,357.08 L133.53,358.66 L134.03,360.21 L134.53,361.71 L135.03,363.18 L135.53,364.61 L136.03,365.99 L136.53,367.33 L137.03,368.63 L137.53,369.88 L138.03,371.08 L138.53,372.25 L139.03,373.36 L139.53,374.44 L140.03,375.46 L140.53,376.45 L141.03,377.38 L141.53,378.28 L142.03,379.13 L142.53,379.94 L143.03,380.71 L143.53,381.44 L144.03,382.13 L144.53,382.78 L145.03,383.39 L145.53,383.97 L146.03,384.51 L146.53,385.02 L147.03,385.50 L147.53,385.95 L148.03,386.36 L148.53,386.75 L149.04,387.11 L149.54,387.45 L150.04,387.76 L150.54,388.05 L151.04,388.32 L151.54,388.57 L152.04,388.80 L152.54,389.01 L153.04,389.20 L153.54,389.38 L154.04,389.54 L154.54,389.69 L155.04,389.82 L155.54,389.95 L156.04,390.06 L156.54,390.16 L157.04,390.26 L157.54,390.34 L158.04,390.42 L158.54,390.49 L159.04,390.55 L159.54,390.60 L160.04,390.65 L160.54,390.70 L161.04,390.74 L161.54,390.78 L162.04,390.81 L162.54,390.84 L163.04,390.86 L163.54,390.89 L164.04,390.91 L164.54,390.92 L165.04,390.94 L165.54,390.95 L166.04,390.97 L166.54,390.98 L167.04,390.99 L167.54,390.99 L168.04,391.00 L168.54,391.01 L169.04,391.01 L169.54,391.02 L170.04,391.02 L170.54,391.03 L171.04,391.03 L171.54,391.03 L172.04,391.04 L172.54,391.04 L173.04,391.04 L173.54,391.04 L174.04,391.04 L174.54,391.04 L175.04,391.04 L175.54,391.05 L176.04,391.05 L176.54,391.05 L177.04,391.05 L177.54,391.05 L178.04,391.05 L178.54,391.05 L179.04,391.05 L179.54,391.05 L180.04,391.05 L180.54,391.05 L181.04,391.05 L181.54,391.05 L182.04,391.05 L182.54,391.05 L183.04,391.05 L183.54,391.05 L184.04,391.05 L184.54,391.05 L185.04,391.05 L185.54,391.05 L186.04,391.05 L186.54,391.05 L187.04,391.05 L187.54,391.05 L188.04,391.05 L188.54,391.05 L189.04,391.05 L189.54,391.05 L190.05,391.05 L190.55,391.05 L191.05,391.05 L191.55,391.05 L192.05,391.05 L192.55,391.05 L193.05,391.05 L193.55,391.05 L194.05,391.05 L194.55,391.05 L195.05,391.05 L195.55,391.05 L196.05,391.05 L196.55,391.05 L197.05,391.05 L197.55,391.05 L198.05,391.05 L198.55,391.05 L199.05,391.05 L199.55,391.05 L200.05,391.05 L200.55,391.05 L201.05,391.05 L201.55,391.05 L202.05,391.05 L202.55,391.05 L203.05,391.05 L203.55,391.05 L204.05,391.05 L204.55,391.05 L205.05,391.05 L205.55,391.05 L206.05,391.05 L206.55,391.05 L207.05,391.05 L207.55,391.05 L208.05,391.05 L208.55,391.05 L209.05,391.05 L209.55,391.05 L210.05,391.05" fill="none" stroke="#000" stroke-width="1.2" stroke-dasharray="3.2,2.2"/>
<path d="M5.50,391.05 L6.00,391.05 L6.50,391.05 L7.00,391.05 L7.50,391.05 L8.00,391.05 L8.50,391.05 L9.00,391.05 L9.50,391.05 L10.00,391.05 L10.50,391.05 L11.00,391.05 L11.50,391.05 L12.00,391.05 L12.50,391.05 L13.00,391.05 L13.50,391.05 L14.00,391.05 L14.50,391.05 L15.00,391.05 L15.50,391.05 L16.00,391.05 L16.50,391.05 L17.00,391.05 L17.50,391.05 L18.00,391.05 L18.50,391.05 L19.00,391.05 L19.50,391.05 L20.00,391.05 L20.50,391.05 L21.00,391.05 L21.50,391.05 L22.00,391.05 L22.50,391.05 L23.00,391.05 L23.50,391.05 L24.00,391.05 L24.50,391.05 L25.00,391.05 L25.50,391.05 L26.01,391.05 L26.51,391.05 L27.01,391.05 L27.51,391.05 L28.01,391.05 L28.51,391.05 L29.01,391.05 L29.51,391.05 L30.01,391.05 L30.51,391.05 L31.01,391.05 L31.51,391.05 L32.01,391.05 L32.51,391.05 L33.01,391.05 L33.51,391.05 L34.01,391.05 L34.51,391.05 L35.01,391.05 L35.51,391.05 L36.01,391.05 L36.51,391.05 L37.01,391.05 L37.51,391.05 L38.01,391.05 L38.51,391.05 L39.01,391.05 L39.51,391.05 L40.01,391.05 L40.51,391.05 L41.01,391.05 L41.51,391.05 L42.01,391.05 L42.51,391.05 L43.01,391.05 L43.51,391.05 L44.01,391.05 L44.51,391.05 L45.01,391.05 L45.51,391.05 L46.01,391.05 L46.51,391.05 L47.01,391.05 L47.51,391.05 L48.01,391.05 L48.51,391.05 L49.01,391.05 L49.51,391.05 L50.01,391.05 L50.51,391.05 L51.01,391.05 L51.51,391.05 L52.01,391.05 L52.51,391.04 L53.01,391.04 L53.51,391.04 L54.01,391.04 L54.51,391.04 L55.01,391.04 L55.51,391.03 L56.01,391.03 L56.51,391.03 L57.01,391.02 L57.51,391.02 L58.01,391.01 L58.51,391.00 L59.01,391.00 L59.51,390.99 L60.01,390.98 L60.51,390.96 L61.01,390.95 L61.51,390.93 L62.01,390.91 L62.51,390.89 L63.01,390.86 L63.51,390.83 L64.01,390.80 L64.51,390.76 L65.01,390.71 L65.51,390.66 L66.01,390.61 L66.51,390.54 L67.02,390.47 L67.52,390.38 L68.02,390.29 L68.52,390.18 L69.02,390.06 L69.52,389.92 L70.02,389.77 L70.52,389.60 L71.02,389.41 L71.52,389.20 L72.02,388.97 L72.52,388.70 L73.02,388.42 L73.52,388.10 L74.02,387.74 L74.52,387.35 L75.02,386.93 L75.52,386.46 L76.02,385.94 L76.52,385.38 L77.02,384.77 L77.52,384.10 L78.02,383.37 L78.52,382.58 L79.02,381.73 L79.52,380.81 L80.02,379.81 L80.52,378.74 L81.02,377.59 L81.52,376.35 L82.02,375.03 L82.52,373.63 L83.02,372.12 L83.52,370.53 L84.02,368.84 L84.52,367.04 L85.02,365.15 L85.52,363.15 L86.02,361.05 L86.52,358.85 L87.02,356.54 L87.52,354.13 L88.02,351.62 L88.52,349.01 L89.02,346.30 L89.52,343.49 L90.02,340.59 L90.52,337.61 L91.02,334.55 L91.52,331.41 L92.02,328.20 L92.52,324.93 L93.02,321.60 L93.52,318.24 L94.02,314.83 L94.52,311.40 L95.02,307.96 L95.52,304.51 L96.02,301.07 L96.52,297.65 L97.02,294.27 L97.52,290.93 L98.02,287.65 L98.52,284.44 L99.02,281.31 L99.52,278.29 L100.02,275.37 L100.52,272.58 L101.02,269.92 L101.52,267.41 L102.02,265.07 L102.52,262.89 L103.02,260.89 L103.52,259.09 L104.02,257.48 L104.52,256.08 L105.02,254.90 L105.52,253.94 L106.02,253.20 L106.52,252.69 L107.02,252.41 L107.52,252.36 L108.03,252.55 L108.53,252.96 L109.03,253.61 L109.53,254.49 L110.03,255.58 L110.53,256.90 L111.03,258.42 L111.53,260.15 L112.03,262.07 L112.53,264.17 L113.03,266.45 L113.53,268.90 L114.03,271.50 L114.53,274.24 L115.03,277.10 L115.53,280.09 L116.03,283.18 L116.53,286.35 L117.03,289.61 L117.53,292.93 L118.03,296.30 L118.53,299.70 L119.03,303.13 L119.53,306.58 L120.03,310.03 L120.53,313.46 L121.03,316.88 L121.53,320.26 L122.03,323.60 L122.53,326.90 L123.03,330.13 L123.53,333.30 L124.03,336.40 L124.53,339.41 L125.03,342.34 L125.53,345.19 L126.03,347.94 L126.53,350.59 L127.03,353.14 L127.53,355.59 L128.03,357.94 L128.53,360.19 L129.03,362.33 L129.53,364.36 L130.03,366.30 L130.53,368.13 L131.03,369.86 L131.53,371.50 L132.03,373.04 L132.53,374.48 L133.03,375.84 L133.53,377.10 L134.03,378.29 L134.53,379.39 L135.03,380.42 L135.53,381.37 L136.03,382.25 L136.53,383.06 L137.03,383.81 L137.53,384.51 L138.03,385.14 L138.53,385.72 L139.03,386.26 L139.53,386.74 L140.03,387.19 L140.53,387.59 L141.03,387.96 L141.53,388.29 L142.03,388.59 L142.53,388.86 L143.03,389.11 L143.53,389.33 L144.03,389.53 L144.53,389.71 L145.03,389.86 L145.53,390.01 L146.03,390.13 L146.53,390.24 L147.03,390.34 L147.53,390.43 L148.03,390.51 L148.53,390.58 L149.04,390.64 L149.54,390.70 L150.04,390.74 L150.54,390.78 L151.04,390.82 L151.54,390.85 L152.04,390.88 L152.54,390.90 L153.04,390.92 L153.54,390.94 L154.04,390.96 L154.54,390.97 L155.04,390.98 L155.54,390.99 L156.04,391.00 L156.54,391.01 L157.04,391.01 L157.54,391.02 L158.04,391.02 L158.54,391.03 L159.04,391.03 L159.54,391.04 L160.04,391.04 L160.54,391.04 L161.04,391.04 L161.54,391.04 L162.04,391.04 L162.54,391.04 L163.04,391.05 L163.54,391.05 L164.04,391.05 L164.54,391.05 L165.04,391.05 L165.54,391.05 L166.04,391.05 L166.54,391.05 L167.04,391.05 L167.54,391.05 L168.04,391.05 L168.54,391.05 L169.04,391.05 L169.54,391.05 L170.04,391.05 L170.54,391.05 L171.04,391.05 L171.54,391.05 L172.04,391.05 L172.54,391.05 L173.04,391.05 L173.54,391.05 L174.04,391.05 L174.54,391.05 L175.04,391.05 L175.54,391.05 L176.04,391.05 L176.54,391.05 L177.04,391.05 L177.54,391.05 L178.04,391.05 L178.54,391.05 L179.04,391.05 L179.54,391.05 L180.04,391.05 L180.54,391.05 L181.04,391.05 L181.54,391.05 L182.04,391.05 L182.54,391.05 L183.04,391.05 L183.54,391.05 L184.04,391.05 L184.54,391.05 L185.04,391.05 L185.54,391.05 L186.04,391.05 L186.54,391.05 L187.04,391.05 L187.54,391.05 L188.04,391.05 L188.54,391.05 L189.04,391.05 L189.54,391.05 L190.05,391.05 L190.55,391.05 L191.05,391.05 L191.55,391.05 L192.05,391.05 L192.55,391.05 L193.05,391.05 L193.55,391.05 L194.05,391.05 L194.55,391.05 L195.05,391.05 L195.55,391.05 L196.05,391.05 L196.55,391.05 L197.05,391.05 L197.55,391.05 L198.05,391.05 L198.55,391.05 L199.05,391.05 L199.55,391.05 L200.05,391.05 L200.55,391.05 L201.05,391.05 L201.55,391.05 L202.05,391.05 L202.55,391.05 L203.05,391.05 L203.55,391.05 L204.05,391.05 L204.55,391.05 L205.05,391.05 L205.55,391.05 L206.05,391.05 L206.55,391.05 L207.05,391.05 L207.55,391.05 L208.05,391.05 L208.55,391.05 L209.05,391.05 L209.55,391.05 L210.05,391.05" fill="none" stroke="#000" stroke-width="1.2"/>
<text x="108.28" y="423.05" class="ax"><tspan font-style="italic">s / D</tspan><tspan class="sub" dy="2.3">1</tspan></text>
<text x="61.33" y="444.45" class="cb">(d)</text>
<text x="86.12" y="444.45" class="cm">a</text>
<text transform="translate(93.62,447.25) scale(1.65,1.25)" class="cr">/</text>
<text x="100.92" y="444.45" class="cm">d</text>
<text transform="translate(109.22,446.85) scale(1.25,1)" class="cs">τ</text>
<text transform="translate(120.22,446.35) scale(1.6,1.1)" class="cr">=</text>
<text transform="translate(137.82,446.05) scale(1.3,1)" class="cr">−</text>
<text x="148.22" y="444.45" class="cd">1</text>
</g>
<g>
<path d="M240.10,391.05 L240.10,391.05 L240.60,391.05 L241.10,391.05 L241.61,391.05 L242.11,391.05 L242.61,391.05 L243.11,391.05 L243.62,391.05 L244.12,391.05 L244.62,391.05 L245.12,391.05 L245.62,391.05 L246.13,391.05 L246.63,391.05 L247.13,391.05 L247.63,391.05 L248.14,391.05 L248.64,391.05 L249.14,391.05 L249.64,391.05 L250.14,391.05 L250.65,391.05 L251.15,391.05 L251.65,391.05 L252.15,391.05 L252.66,391.05 L253.16,391.05 L253.66,391.05 L254.16,391.05 L254.66,391.05 L255.17,391.05 L255.67,391.05 L256.17,391.05 L256.67,391.05 L257.17,391.05 L257.68,391.05 L258.18,391.05 L258.68,391.05 L259.18,391.05 L259.69,391.05 L260.19,391.05 L260.69,391.05 L261.19,391.05 L261.69,391.05 L262.20,391.05 L262.70,391.05 L263.20,391.05 L263.70,391.05 L264.21,391.05 L264.71,391.05 L265.21,391.05 L265.71,391.05 L266.21,391.05 L266.72,391.05 L267.22,391.05 L267.72,391.05 L268.22,391.05 L268.73,391.05 L269.23,391.05 L269.73,391.05 L270.23,391.05 L270.73,391.05 L271.24,391.05 L271.74,391.05 L272.24,391.05 L272.74,391.05 L273.25,391.05 L273.75,391.05 L274.25,391.05 L274.75,391.05 L275.25,391.05 L275.76,391.05 L276.26,391.05 L276.76,391.05 L277.26,391.05 L277.77,391.05 L278.27,391.05 L278.77,391.05 L279.27,391.05 L279.77,391.04 L280.28,391.04 L280.78,391.04 L281.28,391.04 L281.78,391.04 L282.28,391.04 L282.79,391.03 L283.29,391.03 L283.79,391.03 L284.29,391.02 L284.80,391.02 L285.30,391.01 L285.80,391.01 L286.30,391.00 L286.80,390.99 L287.31,390.98 L287.81,390.97 L288.31,390.96 L288.81,390.94 L289.32,390.93 L289.82,390.91 L290.32,390.89 L290.82,390.86 L291.32,390.83 L291.83,390.80 L292.33,390.77 L292.83,390.73 L293.33,390.68 L293.84,390.63 L294.34,390.57 L294.84,390.51 L295.34,390.44 L295.84,390.36 L296.35,390.27 L296.85,390.17 L297.35,390.07 L297.85,389.95 L298.36,389.82 L298.86,389.67 L299.36,389.51 L299.86,389.34 L300.36,389.15 L300.87,388.94 L301.37,388.72 L301.87,388.47 L302.37,388.21 L302.88,387.92 L303.38,387.61 L303.88,387.27 L304.38,386.91 L304.88,386.52 L305.39,386.10 L305.89,385.66 L306.39,385.18 L306.89,384.67 L307.39,384.13 L307.90,383.56 L308.40,382.95 L308.90,382.31 L309.40,381.63 L309.91,380.92 L310.41,380.17 L310.91,379.38 L311.41,378.56 L311.91,377.70 L312.42,376.80 L312.92,375.86 L313.42,374.89 L313.92,373.88 L314.43,372.84 L314.93,371.76 L315.43,370.65 L315.93,369.51 L316.43,368.34 L316.94,367.14 L317.44,365.91 L317.94,364.65 L318.44,363.38 L318.95,362.08 L319.45,360.76 L319.95,359.43 L320.45,358.08 L320.95,356.72 L321.46,355.35 L321.96,353.97 L322.46,352.59 L322.96,351.20 L323.47,349.82 L323.97,348.44 L324.47,347.07 L324.97,345.71 L325.47,344.36 L325.98,343.02 L326.48,341.70 L326.98,340.40 L327.48,339.11 L327.99,337.85 L328.49,336.62 L328.99,335.41 L329.49,334.23 L329.99,333.07 L330.50,331.95 L331.00,330.86 L331.50,329.80 L332.00,328.77 L332.50,327.78 L333.01,326.82 L333.51,325.89 L334.01,325.00 L334.51,324.14 L335.02,323.32 L335.52,322.53 L336.02,321.78 L336.52,321.06 L337.02,320.37 L337.53,319.71 L338.03,319.08 L338.53,318.49 L339.03,317.92 L339.54,317.39 L340.04,316.88 L340.54,316.40 L341.04,315.95 L341.54,315.52 L342.05,315.11 L342.55,314.73 L343.05,314.38 L343.55,314.04 L344.06,313.73 L344.56,313.44 L345.06,313.18 L345.56,312.93 L346.06,312.70 L346.57,312.49 L347.07,312.31 L347.57,312.14 L348.07,311.99 L348.58,311.87 L349.08,311.76 L349.58,311.68 L350.08,311.61 L350.58,311.57 L351.09,311.55 L351.59,311.55 L352.09,311.58 L352.59,311.63 L353.10,311.70 L353.60,311.81 L354.10,311.93 L354.60,312.09 L355.10,312.27 L355.61,312.48 L356.11,312.72 L356.61,313.00 L357.11,313.30 L357.61,313.64 L358.12,314.01 L358.62,314.41 L359.12,314.85 L359.62,315.33 L360.13,315.84 L360.63,316.39 L361.13,316.97 L361.63,317.59 L362.13,318.25 L362.64,318.95 L363.14,319.69 L363.64,320.46 L364.14,321.28 L364.65,322.13 L365.15,323.02 L365.65,323.94 L366.15,324.90 L366.65,325.90 L367.16,326.93 L367.66,328.00 L368.16,329.10 L368.66,330.23 L369.17,331.39 L369.67,332.58 L370.17,333.79 L370.67,335.04 L371.17,336.30 L371.68,337.59 L372.18,338.89 L372.68,340.22 L373.18,341.56 L373.69,342.91 L374.19,344.27 L374.69,345.65 L375.19,347.02 L375.69,348.41 L376.20,349.79 L376.70,351.17 L377.20,352.55 L377.70,353.92 L378.21,355.29 L378.71,356.64 L379.21,357.98 L379.71,359.31 L380.21,360.62 L380.72,361.91 L381.22,363.17 L381.72,364.42 L382.22,365.64 L382.72,366.84 L383.23,368.01 L383.73,369.15 L384.23,370.26 L384.73,371.34 L385.24,372.39 L385.74,373.40 L386.24,374.38 L386.74,375.33 L387.24,376.25 L387.75,377.13 L388.25,377.97 L388.75,378.78 L389.25,379.56 L389.76,380.30 L390.26,381.01 L390.76,381.68 L391.26,382.32 L391.76,382.93 L392.27,383.51 L392.77,384.05 L393.27,384.57 L393.77,385.05 L394.28,385.51 L394.78,385.94 L395.28,386.34 L395.78,386.72 L396.28,387.07 L396.79,387.40 L397.29,387.71 L397.79,388.00 L398.29,388.26 L398.80,388.51 L399.30,388.74 L399.80,388.95 L400.30,389.14 L400.80,389.32 L401.31,389.48 L401.81,389.64 L402.31,389.77 L402.81,389.90 L403.32,390.02 L403.82,390.12 L404.32,390.22 L404.82,390.30 L405.32,390.38 L405.83,390.45 L406.33,390.52 L406.83,390.58 L407.33,390.63 L407.83,390.68 L408.34,390.72 L408.84,390.76 L409.34,390.79 L409.84,390.82 L410.35,390.85 L410.85,390.87 L411.35,390.90 L411.85,390.91 L412.35,390.93 L412.86,390.95 L413.36,390.96 L413.86,390.97 L414.36,390.98 L414.87,390.99 L415.37,391.00 L415.87,391.01 L416.37,391.01 L416.87,391.02 L417.38,391.02 L417.88,391.03 L418.38,391.03 L418.88,391.03 L419.39,391.03 L419.89,391.04 L420.39,391.04 L420.89,391.04 L421.39,391.04 L421.90,391.04 L422.40,391.04 L422.90,391.05 L423.40,391.05 L423.91,391.05 L424.41,391.05 L424.91,391.05 L425.41,391.05 L425.91,391.05 L426.42,391.05 L426.92,391.05 L427.42,391.05 L427.92,391.05 L428.43,391.05 L428.93,391.05 L429.43,391.05 L429.93,391.05 L430.43,391.05 L430.94,391.05 L431.44,391.05 L431.94,391.05 L432.44,391.05 L432.94,391.05 L433.45,391.05 L433.95,391.05 L434.45,391.05 L434.95,391.05 L435.46,391.05 L435.96,391.05 L436.46,391.05 L436.96,391.05 L437.46,391.05 L437.97,391.05 L438.47,391.05 L438.97,391.05 L439.47,391.05 L439.98,391.05 L440.48,391.05 L440.98,391.05 L441.48,391.05 L441.98,391.05 L442.49,391.05 L442.99,391.05 L443.49,391.05 L443.99,391.05 L444.50,391.05 L445.00,391.05 L445.50,391.05 L445.50,391.05 Z" fill="#7b7b7b"/>
<path d="M240.10,395.65 V235.50 H445.50 V395.65" fill="none" stroke="#444" stroke-width="1.15"/>
<line x1="240.10" y1="391.05" x2="240.10" y2="391.05" stroke="#666" stroke-width="1"/>
<text x="240.10" y="407.25" class="tk">0.1</text>
<line x1="274.33" y1="391.05" x2="274.33" y2="395.65" stroke="#666" stroke-width="1"/>
<text x="274.33" y="407.25" class="tk">0.15</text>
<line x1="308.57" y1="391.05" x2="308.57" y2="395.65" stroke="#666" stroke-width="1"/>
<text x="308.57" y="407.25" class="tk">0.2</text>
<line x1="342.80" y1="391.05" x2="342.80" y2="395.65" stroke="#666" stroke-width="1"/>
<text x="342.80" y="407.25" class="tk">0.25</text>
<line x1="377.03" y1="391.05" x2="377.03" y2="395.65" stroke="#666" stroke-width="1"/>
<text x="377.03" y="407.25" class="tk">0.3</text>
<line x1="411.27" y1="391.05" x2="411.27" y2="395.65" stroke="#666" stroke-width="1"/>
<text x="411.27" y="407.25" class="tk">0.35</text>
<line x1="445.50" y1="391.05" x2="445.50" y2="391.05" stroke="#666" stroke-width="1"/>
<text x="445.50" y="407.25" class="tk">0.4</text>
<line x1="240.10" y1="391.05" x2="445.50" y2="391.05" stroke="#000" stroke-width="1.4"/>
<path d="M240.10,391.05 L240.60,391.05 L241.10,391.05 L241.61,391.05 L242.11,391.05 L242.61,391.05 L243.11,391.05 L243.62,391.05 L244.12,391.05 L244.62,391.05 L245.12,391.05 L245.62,391.05 L246.13,391.05 L246.63,391.05 L247.13,391.05 L247.63,391.05 L248.14,391.05 L248.64,391.05 L249.14,391.05 L249.64,391.05 L250.14,391.05 L250.65,391.05 L251.15,391.05 L251.65,391.05 L252.15,391.05 L252.66,391.05 L253.16,391.05 L253.66,391.05 L254.16,391.05 L254.66,391.05 L255.17,391.05 L255.67,391.05 L256.17,391.05 L256.67,391.05 L257.17,391.05 L257.68,391.05 L258.18,391.05 L258.68,391.05 L259.18,391.05 L259.69,391.05 L260.19,391.05 L260.69,391.05 L261.19,391.05 L261.69,391.05 L262.20,391.05 L262.70,391.05 L263.20,391.05 L263.70,391.04 L264.21,391.04 L264.71,391.04 L265.21,391.04 L265.71,391.04 L266.21,391.04 L266.72,391.04 L267.22,391.03 L267.72,391.03 L268.22,391.03 L268.73,391.02 L269.23,391.02 L269.73,391.01 L270.23,391.01 L270.73,391.00 L271.24,391.00 L271.74,390.99 L272.24,390.98 L272.74,390.97 L273.25,390.95 L273.75,390.94 L274.25,390.93 L274.75,390.91 L275.25,390.89 L275.76,390.87 L276.26,390.84 L276.76,390.81 L277.26,390.78 L277.77,390.75 L278.27,390.71 L278.77,390.67 L279.27,390.62 L279.77,390.57 L280.28,390.51 L280.78,390.44 L281.28,390.37 L281.78,390.29 L282.28,390.21 L282.79,390.11 L283.29,390.01 L283.79,389.90 L284.29,389.77 L284.80,389.64 L285.30,389.49 L285.80,389.33 L286.30,389.16 L286.80,388.98 L287.31,388.78 L287.81,388.56 L288.31,388.33 L288.81,388.08 L289.32,387.81 L289.82,387.52 L290.32,387.22 L290.82,386.89 L291.32,386.55 L291.83,386.18 L292.33,385.78 L292.83,385.37 L293.33,384.93 L293.84,384.47 L294.34,383.98 L294.84,383.47 L295.34,382.93 L295.84,382.36 L296.35,381.77 L296.85,381.15 L297.35,380.51 L297.85,379.84 L298.36,379.14 L298.86,378.42 L299.36,377.67 L299.86,376.90 L300.36,376.10 L300.87,375.28 L301.37,374.44 L301.87,373.57 L302.37,372.68 L302.88,371.77 L303.38,370.85 L303.88,369.90 L304.38,368.94 L304.88,367.96 L305.39,366.97 L305.89,365.97 L306.39,364.95 L306.89,363.93 L307.39,362.90 L307.90,361.87 L308.40,360.83 L308.90,359.79 L309.40,358.75 L309.91,357.72 L310.41,356.68 L310.91,355.65 L311.41,354.63 L311.91,353.62 L312.42,352.62 L312.92,351.64 L313.42,350.66 L313.92,349.71 L314.43,348.77 L314.93,347.84 L315.43,346.94 L315.93,346.06 L316.43,345.20 L316.94,344.36 L317.44,343.55 L317.94,342.76 L318.44,342.00 L318.95,341.26 L319.45,340.55 L319.95,339.87 L320.45,339.21 L320.95,338.58 L321.46,337.98 L321.96,337.40 L322.46,336.86 L322.96,336.33 L323.47,335.84 L323.97,335.37 L324.47,334.92 L324.97,334.51 L325.47,334.11 L325.98,333.74 L326.48,333.39 L326.98,333.07 L327.48,332.77 L327.99,332.48 L328.49,332.22 L328.99,331.98 L329.49,331.76 L329.99,331.55 L330.50,331.36 L331.00,331.19 L331.50,331.03 L332.00,330.89 L332.50,330.76 L333.01,330.65 L333.51,330.55 L334.01,330.46 L334.51,330.38 L335.02,330.31 L335.52,330.25 L336.02,330.20 L336.52,330.15 L337.02,330.12 L337.53,330.09 L338.03,330.07 L338.53,330.06 L339.03,330.05 L339.54,330.05 L340.04,330.05 L340.54,330.06 L341.04,330.08 L341.54,330.10 L342.05,330.12 L342.55,330.15 L343.05,330.19 L343.55,330.23 L344.06,330.27 L344.56,330.32 L345.06,330.37 L345.56,330.43 L346.06,330.49 L346.57,330.56 L347.07,330.63 L347.57,330.71 L348.07,330.80 L348.58,330.89 L349.08,330.99 L349.58,331.09 L350.08,331.21 L350.58,331.33 L351.09,331.46 L351.59,331.60 L352.09,331.75 L352.59,331.91 L353.10,332.08 L353.60,332.27 L354.10,332.46 L354.60,332.67 L355.10,332.90 L355.61,333.13 L356.11,333.39 L356.61,333.66 L357.11,333.94 L357.61,334.25 L358.12,334.57 L358.62,334.91 L359.12,335.27 L359.62,335.65 L360.13,336.05 L360.63,336.47 L361.13,336.92 L361.63,337.39 L362.13,337.88 L362.64,338.39 L363.14,338.93 L363.64,339.49 L364.14,340.08 L364.65,340.69 L365.15,341.33 L365.65,341.98 L366.15,342.67 L366.65,343.37 L367.16,344.11 L367.66,344.86 L368.16,345.64 L368.66,346.43 L369.17,347.25 L369.67,348.09 L370.17,348.95 L370.67,349.83 L371.17,350.72 L371.68,351.64 L372.18,352.56 L372.68,353.50 L373.18,354.46 L373.69,355.42 L374.19,356.39 L374.69,357.37 L375.19,358.36 L375.69,359.35 L376.20,360.34 L376.70,361.34 L377.20,362.33 L377.70,363.32 L378.21,364.31 L378.71,365.29 L379.21,366.27 L379.71,367.23 L380.21,368.19 L380.72,369.13 L381.22,370.06 L381.72,370.97 L382.22,371.87 L382.72,372.76 L383.23,373.62 L383.73,374.46 L384.23,375.29 L384.73,376.09 L385.24,376.87 L385.74,377.62 L386.24,378.36 L386.74,379.07 L387.24,379.75 L387.75,380.41 L388.25,381.05 L388.75,381.66 L389.25,382.24 L389.76,382.80 L390.26,383.34 L390.76,383.85 L391.26,384.34 L391.76,384.80 L392.27,385.24 L392.77,385.66 L393.27,386.05 L393.77,386.42 L394.28,386.77 L394.78,387.10 L395.28,387.41 L395.78,387.70 L396.28,387.97 L396.79,388.23 L397.29,388.46 L397.79,388.68 L398.29,388.89 L398.80,389.08 L399.30,389.25 L399.80,389.42 L400.30,389.57 L400.80,389.71 L401.31,389.83 L401.81,389.95 L402.31,390.06 L402.81,390.16 L403.32,390.25 L403.82,390.33 L404.32,390.40 L404.82,390.47 L405.32,390.53 L405.83,390.59 L406.33,390.64 L406.83,390.68 L407.33,390.72 L407.83,390.76 L408.34,390.79 L408.84,390.82 L409.34,390.85 L409.84,390.87 L410.35,390.90 L410.85,390.91 L411.35,390.93 L411.85,390.95 L412.35,390.96 L412.86,390.97 L413.36,390.98 L413.86,390.99 L414.36,391.00 L414.87,391.00 L415.37,391.01 L415.87,391.02 L416.37,391.02 L416.87,391.02 L417.38,391.03 L417.88,391.03 L418.38,391.03 L418.88,391.04 L419.39,391.04 L419.89,391.04 L420.39,391.04 L420.89,391.04 L421.39,391.04 L421.90,391.04 L422.40,391.05 L422.90,391.05 L423.40,391.05 L423.91,391.05 L424.41,391.05 L424.91,391.05 L425.41,391.05 L425.91,391.05 L426.42,391.05 L426.92,391.05 L427.42,391.05 L427.92,391.05 L428.43,391.05 L428.93,391.05 L429.43,391.05 L429.93,391.05 L430.43,391.05 L430.94,391.05 L431.44,391.05 L431.94,391.05 L432.44,391.05 L432.94,391.05 L433.45,391.05 L433.95,391.05 L434.45,391.05 L434.95,391.05 L435.46,391.05 L435.96,391.05 L436.46,391.05 L436.96,391.05 L437.46,391.05 L437.97,391.05 L438.47,391.05 L438.97,391.05 L439.47,391.05 L439.98,391.05 L440.48,391.05 L440.98,391.05 L441.48,391.05 L441.98,391.05 L442.49,391.05 L442.99,391.05 L443.49,391.05 L443.99,391.05 L444.50,391.05 L445.00,391.05 L445.50,391.05" fill="none" stroke="#000" stroke-width="1.2" stroke-dasharray="3.2,2.2"/>
<path d="M240.10,391.05 L240.60,391.05 L241.10,391.05 L241.61,391.05 L242.11,391.05 L242.61,391.05 L243.11,391.05 L243.62,391.05 L244.12,391.05 L244.62,391.05 L245.12,391.05 L245.62,391.05 L246.13,391.05 L246.63,391.05 L247.13,391.05 L247.63,391.05 L248.14,391.05 L248.64,391.05 L249.14,391.05 L249.64,391.05 L250.14,391.05 L250.65,391.05 L251.15,391.05 L251.65,391.05 L252.15,391.05 L252.66,391.05 L253.16,391.05 L253.66,391.05 L254.16,391.05 L254.66,391.05 L255.17,391.05 L255.67,391.05 L256.17,391.05 L256.67,391.05 L257.17,391.05 L257.68,391.05 L258.18,391.05 L258.68,391.05 L259.18,391.05 L259.69,391.05 L260.19,391.05 L260.69,391.05 L261.19,391.05 L261.69,391.05 L262.20,391.05 L262.70,391.05 L263.20,391.05 L263.70,391.05 L264.21,391.05 L264.71,391.05 L265.21,391.05 L265.71,391.05 L266.21,391.05 L266.72,391.05 L267.22,391.05 L267.72,391.05 L268.22,391.05 L268.73,391.05 L269.23,391.05 L269.73,391.05 L270.23,391.05 L270.73,391.05 L271.24,391.05 L271.74,391.05 L272.24,391.05 L272.74,391.05 L273.25,391.05 L273.75,391.05 L274.25,391.05 L274.75,391.05 L275.25,391.05 L275.76,391.05 L276.26,391.05 L276.76,391.05 L277.26,391.05 L277.77,391.05 L278.27,391.05 L278.77,391.05 L279.27,391.05 L279.77,391.05 L280.28,391.05 L280.78,391.05 L281.28,391.05 L281.78,391.05 L282.28,391.05 L282.79,391.05 L283.29,391.05 L283.79,391.05 L284.29,391.05 L284.80,391.05 L285.30,391.05 L285.80,391.05 L286.30,391.05 L286.80,391.05 L287.31,391.04 L287.81,391.04 L288.31,391.04 L288.81,391.04 L289.32,391.04 L289.82,391.04 L290.32,391.03 L290.82,391.03 L291.32,391.03 L291.83,391.02 L292.33,391.02 L292.83,391.01 L293.33,391.00 L293.84,391.00 L294.34,390.99 L294.84,390.98 L295.34,390.96 L295.84,390.95 L296.35,390.93 L296.85,390.91 L297.35,390.89 L297.85,390.86 L298.36,390.83 L298.86,390.80 L299.36,390.76 L299.86,390.71 L300.36,390.66 L300.87,390.61 L301.37,390.54 L301.87,390.47 L302.37,390.38 L302.88,390.29 L303.38,390.18 L303.88,390.06 L304.38,389.92 L304.88,389.77 L305.39,389.60 L305.89,389.41 L306.39,389.20 L306.89,388.97 L307.39,388.70 L307.90,388.42 L308.40,388.10 L308.90,387.74 L309.40,387.35 L309.91,386.93 L310.41,386.46 L310.91,385.94 L311.41,385.38 L311.91,384.77 L312.42,384.10 L312.92,383.37 L313.42,382.58 L313.92,381.73 L314.43,380.81 L314.93,379.81 L315.43,378.74 L315.93,377.59 L316.43,376.35 L316.94,375.03 L317.44,373.63 L317.94,372.12 L318.44,370.53 L318.95,368.84 L319.45,367.04 L319.95,365.15 L320.45,363.15 L320.95,361.05 L321.46,358.85 L321.96,356.54 L322.46,354.13 L322.96,351.62 L323.47,349.01 L323.97,346.30 L324.47,343.49 L324.97,340.59 L325.47,337.61 L325.98,334.55 L326.48,331.41 L326.98,328.20 L327.48,324.93 L327.99,321.60 L328.49,318.24 L328.99,314.83 L329.49,311.40 L329.99,307.96 L330.50,304.51 L331.00,301.07 L331.50,297.65 L332.00,294.27 L332.50,290.93 L333.01,287.65 L333.51,284.44 L334.01,281.31 L334.51,278.29 L335.02,275.37 L335.52,272.58 L336.02,269.92 L336.52,267.41 L337.02,265.07 L337.53,262.89 L338.03,260.89 L338.53,259.09 L339.03,257.48 L339.54,256.08 L340.04,254.90 L340.54,253.94 L341.04,253.20 L341.54,252.69 L342.05,252.41 L342.55,252.36 L343.05,252.55 L343.55,252.96 L344.06,253.61 L344.56,254.49 L345.06,255.58 L345.56,256.90 L346.06,258.42 L346.57,260.15 L347.07,262.07 L347.57,264.17 L348.07,266.45 L348.58,268.90 L349.08,271.50 L349.58,274.24 L350.08,277.10 L350.58,280.09 L351.09,283.18 L351.59,286.35 L352.09,289.61 L352.59,292.93 L353.10,296.30 L353.60,299.70 L354.10,303.13 L354.60,306.58 L355.10,310.03 L355.61,313.46 L356.11,316.88 L356.61,320.26 L357.11,323.60 L357.61,326.90 L358.12,330.13 L358.62,333.30 L359.12,336.40 L359.62,339.41 L360.13,342.34 L360.63,345.19 L361.13,347.94 L361.63,350.59 L362.13,353.14 L362.64,355.59 L363.14,357.94 L363.64,360.19 L364.14,362.33 L364.65,364.36 L365.15,366.30 L365.65,368.13 L366.15,369.86 L366.65,371.50 L367.16,373.04 L367.66,374.48 L368.16,375.84 L368.66,377.10 L369.17,378.29 L369.67,379.39 L370.17,380.42 L370.67,381.37 L371.17,382.25 L371.68,383.06 L372.18,383.81 L372.68,384.51 L373.18,385.14 L373.69,385.72 L374.19,386.26 L374.69,386.74 L375.19,387.19 L375.69,387.59 L376.20,387.96 L376.70,388.29 L377.20,388.59 L377.70,388.86 L378.21,389.11 L378.71,389.33 L379.21,389.53 L379.71,389.71 L380.21,389.86 L380.72,390.01 L381.22,390.13 L381.72,390.24 L382.22,390.34 L382.72,390.43 L383.23,390.51 L383.73,390.58 L384.23,390.64 L384.73,390.70 L385.24,390.74 L385.74,390.78 L386.24,390.82 L386.74,390.85 L387.24,390.88 L387.75,390.90 L388.25,390.92 L388.75,390.94 L389.25,390.96 L389.76,390.97 L390.26,390.98 L390.76,390.99 L391.26,391.00 L391.76,391.01 L392.27,391.01 L392.77,391.02 L393.27,391.02 L393.77,391.03 L394.28,391.03 L394.78,391.04 L395.28,391.04 L395.78,391.04 L396.28,391.04 L396.79,391.04 L397.29,391.04 L397.79,391.04 L398.29,391.05 L398.80,391.05 L399.30,391.05 L399.80,391.05 L400.30,391.05 L400.80,391.05 L401.31,391.05 L401.81,391.05 L402.31,391.05 L402.81,391.05 L403.32,391.05 L403.82,391.05 L404.32,391.05 L404.82,391.05 L405.32,391.05 L405.83,391.05 L406.33,391.05 L406.83,391.05 L407.33,391.05 L407.83,391.05 L408.34,391.05 L408.84,391.05 L409.34,391.05 L409.84,391.05 L410.35,391.05 L410.85,391.05 L411.35,391.05 L411.85,391.05 L412.35,391.05 L412.86,391.05 L413.36,391.05 L413.86,391.05 L414.36,391.05 L414.87,391.05 L415.37,391.05 L415.87,391.05 L416.37,391.05 L416.87,391.05 L417.38,391.05 L417.88,391.05 L418.38,391.05 L418.88,391.05 L419.39,391.05 L419.89,391.05 L420.39,391.05 L420.89,391.05 L421.39,391.05 L421.90,391.05 L422.40,391.05 L422.90,391.05 L423.40,391.05 L423.91,391.05 L424.41,391.05 L424.91,391.05 L425.41,391.05 L425.91,391.05 L426.42,391.05 L426.92,391.05 L427.42,391.05 L427.92,391.05 L428.43,391.05 L428.93,391.05 L429.43,391.05 L429.93,391.05 L430.43,391.05 L430.94,391.05 L431.44,391.05 L431.94,391.05 L432.44,391.05 L432.94,391.05 L433.45,391.05 L433.95,391.05 L434.45,391.05 L434.95,391.05 L435.46,391.05 L435.96,391.05 L436.46,391.05 L436.96,391.05 L437.46,391.05 L437.97,391.05 L438.47,391.05 L438.97,391.05 L439.47,391.05 L439.98,391.05 L440.48,391.05 L440.98,391.05 L441.48,391.05 L441.98,391.05 L442.49,391.05 L442.99,391.05 L443.49,391.05 L443.99,391.05 L444.50,391.05 L445.00,391.05 L445.50,391.05" fill="none" stroke="#000" stroke-width="1.2"/>
<text x="343.30" y="423.05" class="ax"><tspan font-style="italic">s / D</tspan><tspan class="sub" dy="2.3">1</tspan></text>
<text x="296.35" y="444.45" class="cb">(e)</text>
<text x="321.15" y="444.45" class="cm">a</text>
<text transform="translate(328.65,447.25) scale(1.65,1.25)" class="cr">/</text>
<text x="335.95" y="444.45" class="cm">d</text>
<text transform="translate(344.25,446.85) scale(1.25,1)" class="cs">τ</text>
<text transform="translate(355.25,446.35) scale(1.6,1.1)" class="cr">=</text>
<text transform="translate(372.85,446.05) scale(1.3,1)" class="cr">−</text>
<text x="383.25" y="444.45" class="cd">2</text>
</g>
<g>
<path d="M474.00,391.05 L474.00,391.05 L474.50,391.05 L475.00,391.05 L475.50,391.05 L476.00,391.05 L476.50,391.05 L477.00,391.05 L477.50,391.05 L478.00,391.05 L478.50,391.05 L479.00,391.05 L479.50,391.05 L480.00,391.05 L480.50,391.05 L481.00,391.05 L481.50,391.05 L482.00,391.05 L482.50,391.05 L483.00,391.05 L483.50,391.05 L484.00,391.05 L484.50,391.05 L485.00,391.05 L485.50,391.05 L486.00,391.05 L486.50,391.05 L487.00,391.05 L487.50,391.05 L488.00,391.05 L488.50,391.05 L489.00,391.05 L489.50,391.05 L490.00,391.05 L490.50,391.05 L491.00,391.05 L491.50,391.05 L492.00,391.05 L492.50,391.05 L493.00,391.05 L493.50,391.05 L494.00,391.05 L494.50,391.05 L495.00,391.05 L495.50,391.05 L496.00,391.05 L496.50,391.05 L497.00,391.05 L497.50,391.05 L498.00,391.05 L498.50,391.05 L499.00,391.05 L499.50,391.05 L500.00,391.05 L500.50,391.05 L501.00,391.05 L501.50,391.05 L502.00,391.04 L502.50,391.04 L503.00,391.04 L503.50,391.04 L504.00,391.04 L504.50,391.04 L505.00,391.04 L505.50,391.04 L506.00,391.03 L506.50,391.03 L507.00,391.03 L507.50,391.02 L508.00,391.02 L508.50,391.01 L509.00,391.01 L509.50,391.00 L510.00,391.00 L510.50,390.99 L511.00,390.98 L511.50,390.97 L512.00,390.96 L512.50,390.95 L513.00,390.94 L513.50,390.92 L514.00,390.90 L514.50,390.88 L515.00,390.86 L515.50,390.84 L516.00,390.81 L516.50,390.78 L517.00,390.75 L517.50,390.72 L518.00,390.68 L518.50,390.63 L519.00,390.59 L519.50,390.53 L520.00,390.48 L520.50,390.41 L521.00,390.35 L521.50,390.27 L522.00,390.19 L522.50,390.10 L523.00,390.00 L523.50,389.90 L524.00,389.78 L524.50,389.66 L525.00,389.53 L525.50,389.38 L526.00,389.23 L526.50,389.06 L527.00,388.88 L527.50,388.69 L528.00,388.49 L528.50,388.27 L529.00,388.03 L529.50,387.79 L530.00,387.52 L530.50,387.24 L531.00,386.94 L531.50,386.63 L532.00,386.30 L532.50,385.94 L533.00,385.57 L533.50,385.19 L534.00,384.78 L534.50,384.35 L535.00,383.90 L535.50,383.43 L536.00,382.94 L536.50,382.43 L537.00,381.90 L537.50,381.35 L538.00,380.78 L538.50,380.19 L539.00,379.58 L539.50,378.95 L540.00,378.30 L540.50,377.63 L541.00,376.94 L541.50,376.24 L542.00,375.52 L542.50,374.78 L543.00,374.03 L543.50,373.26 L544.00,372.48 L544.50,371.68 L545.00,370.88 L545.50,370.06 L546.00,369.23 L546.50,368.40 L547.00,367.56 L547.50,366.71 L548.00,365.86 L548.50,365.01 L549.00,364.15 L549.50,363.30 L550.00,362.44 L550.50,361.59 L551.00,360.74 L551.50,359.90 L552.00,359.06 L552.50,358.23 L553.00,357.41 L553.50,356.60 L554.00,355.79 L554.50,355.01 L555.00,354.23 L555.50,353.47 L556.00,352.72 L556.50,351.99 L557.00,351.28 L557.50,350.58 L558.00,349.90 L558.50,349.24 L559.00,348.60 L559.50,347.98 L560.00,347.37 L560.50,346.79 L561.00,346.23 L561.50,345.69 L562.00,345.17 L562.50,344.67 L563.00,344.19 L563.50,343.73 L564.00,343.29 L564.50,342.87 L565.00,342.47 L565.50,342.09 L566.00,341.73 L566.50,341.39 L567.00,341.06 L567.50,340.75 L568.00,340.46 L568.50,340.19 L569.00,339.93 L569.50,339.69 L570.00,339.46 L570.50,339.25 L571.00,339.05 L571.50,338.86 L572.00,338.69 L572.50,338.53 L573.00,338.38 L573.50,338.24 L574.00,338.11 L574.50,337.99 L575.00,337.87 L575.50,337.77 L576.00,337.68 L576.50,337.59 L577.00,337.51 L577.50,337.43 L578.00,337.36 L578.50,337.30 L579.00,337.24 L579.50,337.19 L580.00,337.14 L580.50,337.09 L581.00,337.05 L581.50,337.01 L582.00,336.98 L582.50,336.94 L583.00,336.91 L583.50,336.89 L584.00,336.86 L584.50,336.84 L585.00,336.82 L585.50,336.80 L586.00,336.78 L586.50,336.76 L587.00,336.75 L587.50,336.73 L588.00,336.72 L588.50,336.71 L589.00,336.70 L589.50,336.69 L590.00,336.68 L590.50,336.67 L591.00,336.66 L591.50,336.66 L592.00,336.65 L592.50,336.65 L593.00,336.65 L593.50,336.65 L594.00,336.65 L594.50,336.65 L595.00,336.66 L595.50,336.67 L596.00,336.67 L596.50,336.69 L597.00,336.70 L597.50,336.72 L598.00,336.73 L598.50,336.76 L599.00,336.78 L599.50,336.81 L600.00,336.85 L600.50,336.89 L601.00,336.93 L601.50,336.98 L602.00,337.04 L602.50,337.10 L603.00,337.17 L603.50,337.25 L604.00,337.34 L604.50,337.43 L605.00,337.54 L605.50,337.65 L606.00,337.78 L606.50,337.92 L607.00,338.07 L607.50,338.23 L608.00,338.41 L608.50,338.60 L609.00,338.81 L609.50,339.04 L610.00,339.28 L610.50,339.55 L611.00,339.83 L611.50,340.13 L612.00,340.45 L612.50,340.79 L613.00,341.16 L613.50,341.54 L614.00,341.95 L614.50,342.39 L615.00,342.85 L615.50,343.33 L616.00,343.84 L616.50,344.38 L617.00,344.94 L617.50,345.52 L618.00,346.13 L618.50,346.77 L619.00,347.43 L619.50,348.12 L620.00,348.83 L620.50,349.57 L621.00,350.33 L621.50,351.11 L622.00,351.91 L622.50,352.74 L623.00,353.58 L623.50,354.44 L624.00,355.32 L624.50,356.21 L625.00,357.12 L625.50,358.04 L626.00,358.97 L626.50,359.91 L627.00,360.86 L627.50,361.81 L628.00,362.77 L628.50,363.72 L629.00,364.68 L629.50,365.64 L630.00,366.59 L630.50,367.54 L631.00,368.48 L631.50,369.41 L632.00,370.33 L632.50,371.24 L633.00,372.13 L633.50,373.01 L634.00,373.87 L634.50,374.72 L635.00,375.54 L635.50,376.35 L636.00,377.13 L636.50,377.89 L637.00,378.62 L637.50,379.34 L638.00,380.03 L638.50,380.69 L639.00,381.33 L639.50,381.94 L640.00,382.53 L640.50,383.09 L641.00,383.63 L641.50,384.14 L642.00,384.62 L642.50,385.08 L643.00,385.52 L643.50,385.94 L644.00,386.33 L644.50,386.69 L645.00,387.04 L645.50,387.36 L646.00,387.66 L646.50,387.95 L647.00,388.21 L647.50,388.46 L648.00,388.69 L648.50,388.90 L649.00,389.10 L649.50,389.28 L650.00,389.44 L650.50,389.60 L651.00,389.74 L651.50,389.87 L652.00,389.99 L652.50,390.10 L653.00,390.20 L653.50,390.29 L654.00,390.37 L654.50,390.44 L655.00,390.51 L655.50,390.57 L656.00,390.62 L656.50,390.67 L657.00,390.72 L657.50,390.75 L658.00,390.79 L658.50,390.82 L659.00,390.85 L659.50,390.87 L660.00,390.90 L660.50,390.92 L661.00,390.93 L661.50,390.95 L662.00,390.96 L662.50,390.97 L663.00,390.98 L663.50,390.99 L664.00,391.00 L664.50,391.01 L665.00,391.01 L665.50,391.02 L666.00,391.02 L666.50,391.03 L667.00,391.03 L667.50,391.03 L668.00,391.04 L668.50,391.04 L669.00,391.04 L669.50,391.04 L670.00,391.04 L670.50,391.04 L671.00,391.04 L671.50,391.05 L672.00,391.05 L672.50,391.05 L673.00,391.05 L673.50,391.05 L674.00,391.05 L674.50,391.05 L675.00,391.05 L675.50,391.05 L676.00,391.05 L676.50,391.05 L677.00,391.05 L677.50,391.05 L678.00,391.05 L678.50,391.05 L678.50,391.05 Z" fill="#7b7b7b"/>
<path d="M474.00,395.65 V235.50 H678.50 V395.65" fill="none" stroke="#444" stroke-width="1.15"/>
<line x1="474.00" y1="391.05" x2="474.00" y2="391.05" stroke="#666" stroke-width="1"/>
<text x="474.00" y="407.25" class="tk">0.1</text>
<line x1="508.08" y1="391.05" x2="508.08" y2="395.65" stroke="#666" stroke-width="1"/>
<text x="508.08" y="407.25" class="tk">0.15</text>
<line x1="542.17" y1="391.05" x2="542.17" y2="395.65" stroke="#666" stroke-width="1"/>
<text x="542.17" y="407.25" class="tk">0.2</text>
<line x1="576.25" y1="391.05" x2="576.25" y2="395.65" stroke="#666" stroke-width="1"/>
<text x="576.25" y="407.25" class="tk">0.25</text>
<line x1="610.33" y1="391.05" x2="610.33" y2="395.65" stroke="#666" stroke-width="1"/>
<text x="610.33" y="407.25" class="tk">0.3</text>
<line x1="644.42" y1="391.05" x2="644.42" y2="395.65" stroke="#666" stroke-width="1"/>
<text x="644.42" y="407.25" class="tk">0.35</text>
<line x1="678.50" y1="391.05" x2="678.50" y2="391.05" stroke="#666" stroke-width="1"/>
<text x="678.50" y="407.25" class="tk">0.4</text>
<line x1="474.00" y1="391.05" x2="678.50" y2="391.05" stroke="#000" stroke-width="1.4"/>
<path d="M474.00,391.05 L474.50,391.05 L475.00,391.05 L475.50,391.05 L476.00,391.05 L476.50,391.05 L477.00,391.05 L477.50,391.05 L478.00,391.05 L478.50,391.05 L479.00,391.05 L479.50,391.05 L480.00,391.05 L480.50,391.05 L481.00,391.05 L481.50,391.04 L482.00,391.04 L482.50,391.04 L483.00,391.04 L483.50,391.04 L484.00,391.04 L484.50,391.03 L485.00,391.03 L485.50,391.03 L486.00,391.03 L486.50,391.02 L487.00,391.02 L487.50,391.01 L488.00,391.00 L488.50,391.00 L489.00,390.99 L489.50,390.98 L490.00,390.97 L490.50,390.96 L491.00,390.94 L491.50,390.93 L492.00,390.91 L492.50,390.89 L493.00,390.87 L493.50,390.85 L494.00,390.82 L494.50,390.79 L495.00,390.75 L495.50,390.72 L496.00,390.67 L496.50,390.63 L497.00,390.58 L497.50,390.52 L498.00,390.46 L498.50,390.39 L499.00,390.31 L499.50,390.23 L500.00,390.13 L500.50,390.03 L501.00,389.92 L501.50,389.80 L502.00,389.68 L502.50,389.53 L503.00,389.38 L503.50,389.22 L504.00,389.04 L504.50,388.85 L505.00,388.65 L505.50,388.43 L506.00,388.19 L506.50,387.94 L507.00,387.67 L507.50,387.39 L508.00,387.09 L508.50,386.77 L509.00,386.43 L509.50,386.07 L510.00,385.69 L510.50,385.29 L511.00,384.88 L511.50,384.44 L512.00,383.98 L512.50,383.51 L513.00,383.01 L513.50,382.49 L514.00,381.95 L514.50,381.40 L515.00,380.82 L515.50,380.23 L516.00,379.62 L516.50,378.99 L517.00,378.34 L517.50,377.68 L518.00,377.00 L518.50,376.31 L519.00,375.61 L519.50,374.89 L520.00,374.17 L520.50,373.44 L521.00,372.69 L521.50,371.95 L522.00,371.19 L522.50,370.43 L523.00,369.68 L523.50,368.91 L524.00,368.16 L524.50,367.40 L525.00,366.64 L525.50,365.90 L526.00,365.15 L526.50,364.42 L527.00,363.70 L527.50,362.98 L528.00,362.28 L528.50,361.59 L529.00,360.92 L529.50,360.26 L530.00,359.61 L530.50,358.99 L531.00,358.38 L531.50,357.79 L532.00,357.22 L532.50,356.66 L533.00,356.13 L533.50,355.62 L534.00,355.13 L534.50,354.66 L535.00,354.21 L535.50,353.79 L536.00,353.38 L536.50,353.00 L537.00,352.63 L537.50,352.29 L538.00,351.96 L538.50,351.66 L539.00,351.37 L539.50,351.11 L540.00,350.86 L540.50,350.63 L541.00,350.42 L541.50,350.22 L542.00,350.04 L542.50,349.87 L543.00,349.72 L543.50,349.58 L544.00,349.46 L544.50,349.35 L545.00,349.25 L545.50,349.16 L546.00,349.08 L546.50,349.01 L547.00,348.95 L547.50,348.90 L548.00,348.86 L548.50,348.83 L549.00,348.80 L549.50,348.78 L550.00,348.76 L550.50,348.75 L551.00,348.75 L551.50,348.75 L552.00,348.76 L552.50,348.76 L553.00,348.78 L553.50,348.79 L554.00,348.81 L554.50,348.83 L555.00,348.86 L555.50,348.88 L556.00,348.91 L556.50,348.94 L557.00,348.97 L557.50,349.00 L558.00,349.04 L558.50,349.07 L559.00,349.11 L559.50,349.15 L560.00,349.18 L560.50,349.22 L561.00,349.26 L561.50,349.30 L562.00,349.34 L562.50,349.38 L563.00,349.42 L563.50,349.46 L564.00,349.51 L564.50,349.55 L565.00,349.59 L565.50,349.63 L566.00,349.67 L566.50,349.72 L567.00,349.76 L567.50,349.80 L568.00,349.85 L568.50,349.89 L569.00,349.93 L569.50,349.97 L570.00,350.02 L570.50,350.06 L571.00,350.10 L571.50,350.15 L572.00,350.19 L572.50,350.23 L573.00,350.28 L573.50,350.32 L574.00,350.36 L574.50,350.41 L575.00,350.45 L575.50,350.49 L576.00,350.54 L576.50,350.58 L577.00,350.62 L577.50,350.67 L578.00,350.71 L578.50,350.75 L579.00,350.80 L579.50,350.84 L580.00,350.88 L580.50,350.93 L581.00,350.97 L581.50,351.02 L582.00,351.06 L582.50,351.10 L583.00,351.15 L583.50,351.19 L584.00,351.23 L584.50,351.28 L585.00,351.32 L585.50,351.37 L586.00,351.41 L586.50,351.46 L587.00,351.50 L587.50,351.55 L588.00,351.59 L588.50,351.64 L589.00,351.68 L589.50,351.73 L590.00,351.78 L590.50,351.83 L591.00,351.87 L591.50,351.92 L592.00,351.97 L592.50,352.02 L593.00,352.08 L593.50,352.13 L594.00,352.18 L594.50,352.24 L595.00,352.29 L595.50,352.35 L596.00,352.41 L596.50,352.48 L597.00,352.54 L597.50,352.61 L598.00,352.68 L598.50,352.75 L599.00,352.83 L599.50,352.91 L600.00,353.00 L600.50,353.09 L601.00,353.18 L601.50,353.28 L602.00,353.38 L602.50,353.49 L603.00,353.61 L603.50,353.74 L604.00,353.87 L604.50,354.00 L605.00,354.15 L605.50,354.31 L606.00,354.47 L606.50,354.65 L607.00,354.83 L607.50,355.03 L608.00,355.23 L608.50,355.45 L609.00,355.68 L609.50,355.93 L610.00,356.19 L610.50,356.46 L611.00,356.74 L611.50,357.04 L612.00,357.36 L612.50,357.69 L613.00,358.03 L613.50,358.39 L614.00,358.77 L614.50,359.16 L615.00,359.57 L615.50,359.99 L616.00,360.43 L616.50,360.89 L617.00,361.36 L617.50,361.85 L618.00,362.35 L618.50,362.87 L619.00,363.40 L619.50,363.95 L620.00,364.51 L620.50,365.08 L621.00,365.66 L621.50,366.26 L622.00,366.86 L622.50,367.47 L623.00,368.09 L623.50,368.72 L624.00,369.36 L624.50,370.00 L625.00,370.64 L625.50,371.29 L626.00,371.94 L626.50,372.59 L627.00,373.23 L627.50,373.88 L628.00,374.52 L628.50,375.16 L629.00,375.79 L629.50,376.42 L630.00,377.04 L630.50,377.65 L631.00,378.25 L631.50,378.84 L632.00,379.42 L632.50,379.99 L633.00,380.54 L633.50,381.08 L634.00,381.60 L634.50,382.11 L635.00,382.61 L635.50,383.09 L636.00,383.55 L636.50,384.00 L637.00,384.43 L637.50,384.84 L638.00,385.23 L638.50,385.61 L639.00,385.97 L639.50,386.32 L640.00,386.65 L640.50,386.96 L641.00,387.25 L641.50,387.53 L642.00,387.80 L642.50,388.05 L643.00,388.28 L643.50,388.50 L644.00,388.71 L644.50,388.90 L645.00,389.08 L645.50,389.25 L646.00,389.41 L646.50,389.55 L647.00,389.69 L647.50,389.81 L648.00,389.93 L648.50,390.03 L649.00,390.13 L649.50,390.22 L650.00,390.30 L650.50,390.38 L651.00,390.45 L651.50,390.51 L652.00,390.56 L652.50,390.62 L653.00,390.66 L653.50,390.71 L654.00,390.74 L654.50,390.78 L655.00,390.81 L655.50,390.84 L656.00,390.86 L656.50,390.88 L657.00,390.90 L657.50,390.92 L658.00,390.94 L658.50,390.95 L659.00,390.96 L659.50,390.98 L660.00,390.98 L660.50,390.99 L661.00,391.00 L661.50,391.01 L662.00,391.01 L662.50,391.02 L663.00,391.02 L663.50,391.03 L664.00,391.03 L664.50,391.03 L665.00,391.04 L665.50,391.04 L666.00,391.04 L666.50,391.04 L667.00,391.04 L667.50,391.04 L668.00,391.04 L668.50,391.05 L669.00,391.05 L669.50,391.05 L670.00,391.05 L670.50,391.05 L671.00,391.05 L671.50,391.05 L672.00,391.05 L672.50,391.05 L673.00,391.05 L673.50,391.05 L674.00,391.05 L674.50,391.05 L675.00,391.05 L675.50,391.05 L676.00,391.05 L676.50,391.05 L677.00,391.05 L677.50,391.05 L678.00,391.05 L678.50,391.05" fill="none" stroke="#000" stroke-width="1.2" stroke-dasharray="3.2,2.2"/>
<path d="M474.00,391.05 L474.50,391.05 L475.00,391.05 L475.50,391.05 L476.00,391.05 L476.50,391.05 L477.00,391.05 L477.50,391.05 L478.00,391.05 L478.50,391.05 L479.00,391.05 L479.50,391.05 L480.00,391.05 L480.50,391.05 L481.00,391.05 L481.50,391.05 L482.00,391.05 L482.50,391.05 L483.00,391.05 L483.50,391.05 L484.00,391.05 L484.50,391.05 L485.00,391.05 L485.50,391.05 L486.00,391.05 L486.50,391.05 L487.00,391.05 L487.50,391.05 L488.00,391.05 L488.50,391.05 L489.00,391.05 L489.50,391.05 L490.00,391.05 L490.50,391.05 L491.00,391.05 L491.50,391.05 L492.00,391.05 L492.50,391.05 L493.00,391.05 L493.50,391.05 L494.00,391.05 L494.50,391.05 L495.00,391.05 L495.50,391.05 L496.00,391.05 L496.50,391.05 L497.00,391.05 L497.50,391.05 L498.00,391.05 L498.50,391.05 L499.00,391.05 L499.50,391.05 L500.00,391.05 L500.50,391.05 L501.00,391.05 L501.50,391.05 L502.00,391.05 L502.50,391.05 L503.00,391.05 L503.50,391.05 L504.00,391.05 L504.50,391.05 L505.00,391.05 L505.50,391.05 L506.00,391.05 L506.50,391.05 L507.00,391.05 L507.50,391.05 L508.00,391.05 L508.50,391.05 L509.00,391.05 L509.50,391.05 L510.00,391.05 L510.50,391.05 L511.00,391.05 L511.50,391.05 L512.00,391.05 L512.50,391.05 L513.00,391.05 L513.50,391.05 L514.00,391.05 L514.50,391.05 L515.00,391.05 L515.50,391.05 L516.00,391.05 L516.50,391.05 L517.00,391.05 L517.50,391.05 L518.00,391.05 L518.50,391.05 L519.00,391.05 L519.50,391.05 L520.00,391.05 L520.50,391.05 L521.00,391.04 L521.50,391.04 L522.00,391.04 L522.50,391.04 L523.00,391.04 L523.50,391.04 L524.00,391.03 L524.50,391.03 L525.00,391.03 L525.50,391.02 L526.00,391.02 L526.50,391.01 L527.00,391.00 L527.50,391.00 L528.00,390.99 L528.50,390.98 L529.00,390.96 L529.50,390.95 L530.00,390.93 L530.50,390.91 L531.00,390.89 L531.50,390.86 L532.00,390.83 L532.50,390.80 L533.00,390.76 L533.50,390.71 L534.00,390.66 L534.50,390.61 L535.00,390.54 L535.50,390.47 L536.00,390.38 L536.50,390.29 L537.00,390.18 L537.50,390.06 L538.00,389.92 L538.50,389.77 L539.00,389.60 L539.50,389.41 L540.00,389.20 L540.50,388.97 L541.00,388.70 L541.50,388.42 L542.00,388.10 L542.50,387.74 L543.00,387.35 L543.50,386.93 L544.00,386.46 L544.50,385.94 L545.00,385.38 L545.50,384.77 L546.00,384.10 L546.50,383.37 L547.00,382.58 L547.50,381.73 L548.00,380.81 L548.50,379.81 L549.00,378.74 L549.50,377.59 L550.00,376.35 L550.50,375.03 L551.00,373.63 L551.50,372.12 L552.00,370.53 L552.50,368.84 L553.00,367.04 L553.50,365.15 L554.00,363.15 L554.50,361.05 L555.00,358.85 L555.50,356.54 L556.00,354.13 L556.50,351.62 L557.00,349.01 L557.50,346.30 L558.00,343.49 L558.50,340.59 L559.00,337.61 L559.50,334.55 L560.00,331.41 L560.50,328.20 L561.00,324.93 L561.50,321.60 L562.00,318.24 L562.50,314.83 L563.00,311.40 L563.50,307.96 L564.00,304.51 L564.50,301.07 L565.00,297.65 L565.50,294.27 L566.00,290.93 L566.50,287.65 L567.00,284.44 L567.50,281.31 L568.00,278.29 L568.50,275.37 L569.00,272.58 L569.50,269.92 L570.00,267.41 L570.50,265.07 L571.00,262.89 L571.50,260.89 L572.00,259.09 L572.50,257.48 L573.00,256.08 L573.50,254.90 L574.00,253.94 L574.50,253.20 L575.00,252.69 L575.50,252.41 L576.00,252.36 L576.50,252.55 L577.00,252.96 L577.50,253.61 L578.00,254.49 L578.50,255.58 L579.00,256.90 L579.50,258.42 L580.00,260.15 L580.50,262.07 L581.00,264.17 L581.50,266.45 L582.00,268.90 L582.50,271.50 L583.00,274.24 L583.50,277.10 L584.00,280.09 L584.50,283.18 L585.00,286.35 L585.50,289.61 L586.00,292.93 L586.50,296.30 L587.00,299.70 L587.50,303.13 L588.00,306.58 L588.50,310.03 L589.00,313.46 L589.50,316.88 L590.00,320.26 L590.50,323.60 L591.00,326.90 L591.50,330.13 L592.00,333.30 L592.50,336.40 L593.00,339.41 L593.50,342.34 L594.00,345.19 L594.50,347.94 L595.00,350.59 L595.50,353.14 L596.00,355.59 L596.50,357.94 L597.00,360.19 L597.50,362.33 L598.00,364.36 L598.50,366.30 L599.00,368.13 L599.50,369.86 L600.00,371.50 L600.50,373.04 L601.00,374.48 L601.50,375.84 L602.00,377.10 L602.50,378.29 L603.00,379.39 L603.50,380.42 L604.00,381.37 L604.50,382.25 L605.00,383.06 L605.50,383.81 L606.00,384.51 L606.50,385.14 L607.00,385.72 L607.50,386.26 L608.00,386.74 L608.50,387.19 L609.00,387.59 L609.50,387.96 L610.00,388.29 L610.50,388.59 L611.00,388.86 L611.50,389.11 L612.00,389.33 L612.50,389.53 L613.00,389.71 L613.50,389.86 L614.00,390.01 L614.50,390.13 L615.00,390.24 L615.50,390.34 L616.00,390.43 L616.50,390.51 L617.00,390.58 L617.50,390.64 L618.00,390.70 L618.50,390.74 L619.00,390.78 L619.50,390.82 L620.00,390.85 L620.50,390.88 L621.00,390.90 L621.50,390.92 L622.00,390.94 L622.50,390.96 L623.00,390.97 L623.50,390.98 L624.00,390.99 L624.50,391.00 L625.00,391.01 L625.50,391.01 L626.00,391.02 L626.50,391.02 L627.00,391.03 L627.50,391.03 L628.00,391.04 L628.50,391.04 L629.00,391.04 L629.50,391.04 L630.00,391.04 L630.50,391.04 L631.00,391.04 L631.50,391.05 L632.00,391.05 L632.50,391.05 L633.00,391.05 L633.50,391.05 L634.00,391.05 L634.50,391.05 L635.00,391.05 L635.50,391.05 L636.00,391.05 L636.50,391.05 L637.00,391.05 L637.50,391.05 L638.00,391.05 L638.50,391.05 L639.00,391.05 L639.50,391.05 L640.00,391.05 L640.50,391.05 L641.00,391.05 L641.50,391.05 L642.00,391.05 L642.50,391.05 L643.00,391.05 L643.50,391.05 L644.00,391.05 L644.50,391.05 L645.00,391.05 L645.50,391.05 L646.00,391.05 L646.50,391.05 L647.00,391.05 L647.50,391.05 L648.00,391.05 L648.50,391.05 L649.00,391.05 L649.50,391.05 L650.00,391.05 L650.50,391.05 L651.00,391.05 L651.50,391.05 L652.00,391.05 L652.50,391.05 L653.00,391.05 L653.50,391.05 L654.00,391.05 L654.50,391.05 L655.00,391.05 L655.50,391.05 L656.00,391.05 L656.50,391.05 L657.00,391.05 L657.50,391.05 L658.00,391.05 L658.50,391.05 L659.00,391.05 L659.50,391.05 L660.00,391.05 L660.50,391.05 L661.00,391.05 L661.50,391.05 L662.00,391.05 L662.50,391.05 L663.00,391.05 L663.50,391.05 L664.00,391.05 L664.50,391.05 L665.00,391.05 L665.50,391.05 L666.00,391.05 L666.50,391.05 L667.00,391.05 L667.50,391.05 L668.00,391.05 L668.50,391.05 L669.00,391.05 L669.50,391.05 L670.00,391.05 L670.50,391.05 L671.00,391.05 L671.50,391.05 L672.00,391.05 L672.50,391.05 L673.00,391.05 L673.50,391.05 L674.00,391.05 L674.50,391.05 L675.00,391.05 L675.50,391.05 L676.00,391.05 L676.50,391.05 L677.00,391.05 L677.50,391.05 L678.00,391.05 L678.50,391.05" fill="none" stroke="#000" stroke-width="1.2"/>
<text x="576.75" y="423.95" class="ax"><tspan font-style="italic">s / D</tspan><tspan class="sub" dy="2.3">1</tspan></text>
<text x="529.80" y="447.65" class="cb">(f)</text>
<text x="553.80" y="447.65" class="cm">a</text>
<text transform="translate(561.30,450.45) scale(1.65,1.25)" class="cr">/</text>
<text x="568.60" y="447.65" class="cm">d</text>
<text transform="translate(576.90,450.05) scale(1.25,1)" class="cs">τ</text>
<text transform="translate(587.90,449.55) scale(1.6,1.1)" class="cr">=</text>
<text transform="translate(605.50,449.25) scale(1.3,1)" class="cr">−</text>
<text x="615.90" y="447.65" class="cd">3</text>
</g>
</svg>
</body></html>
